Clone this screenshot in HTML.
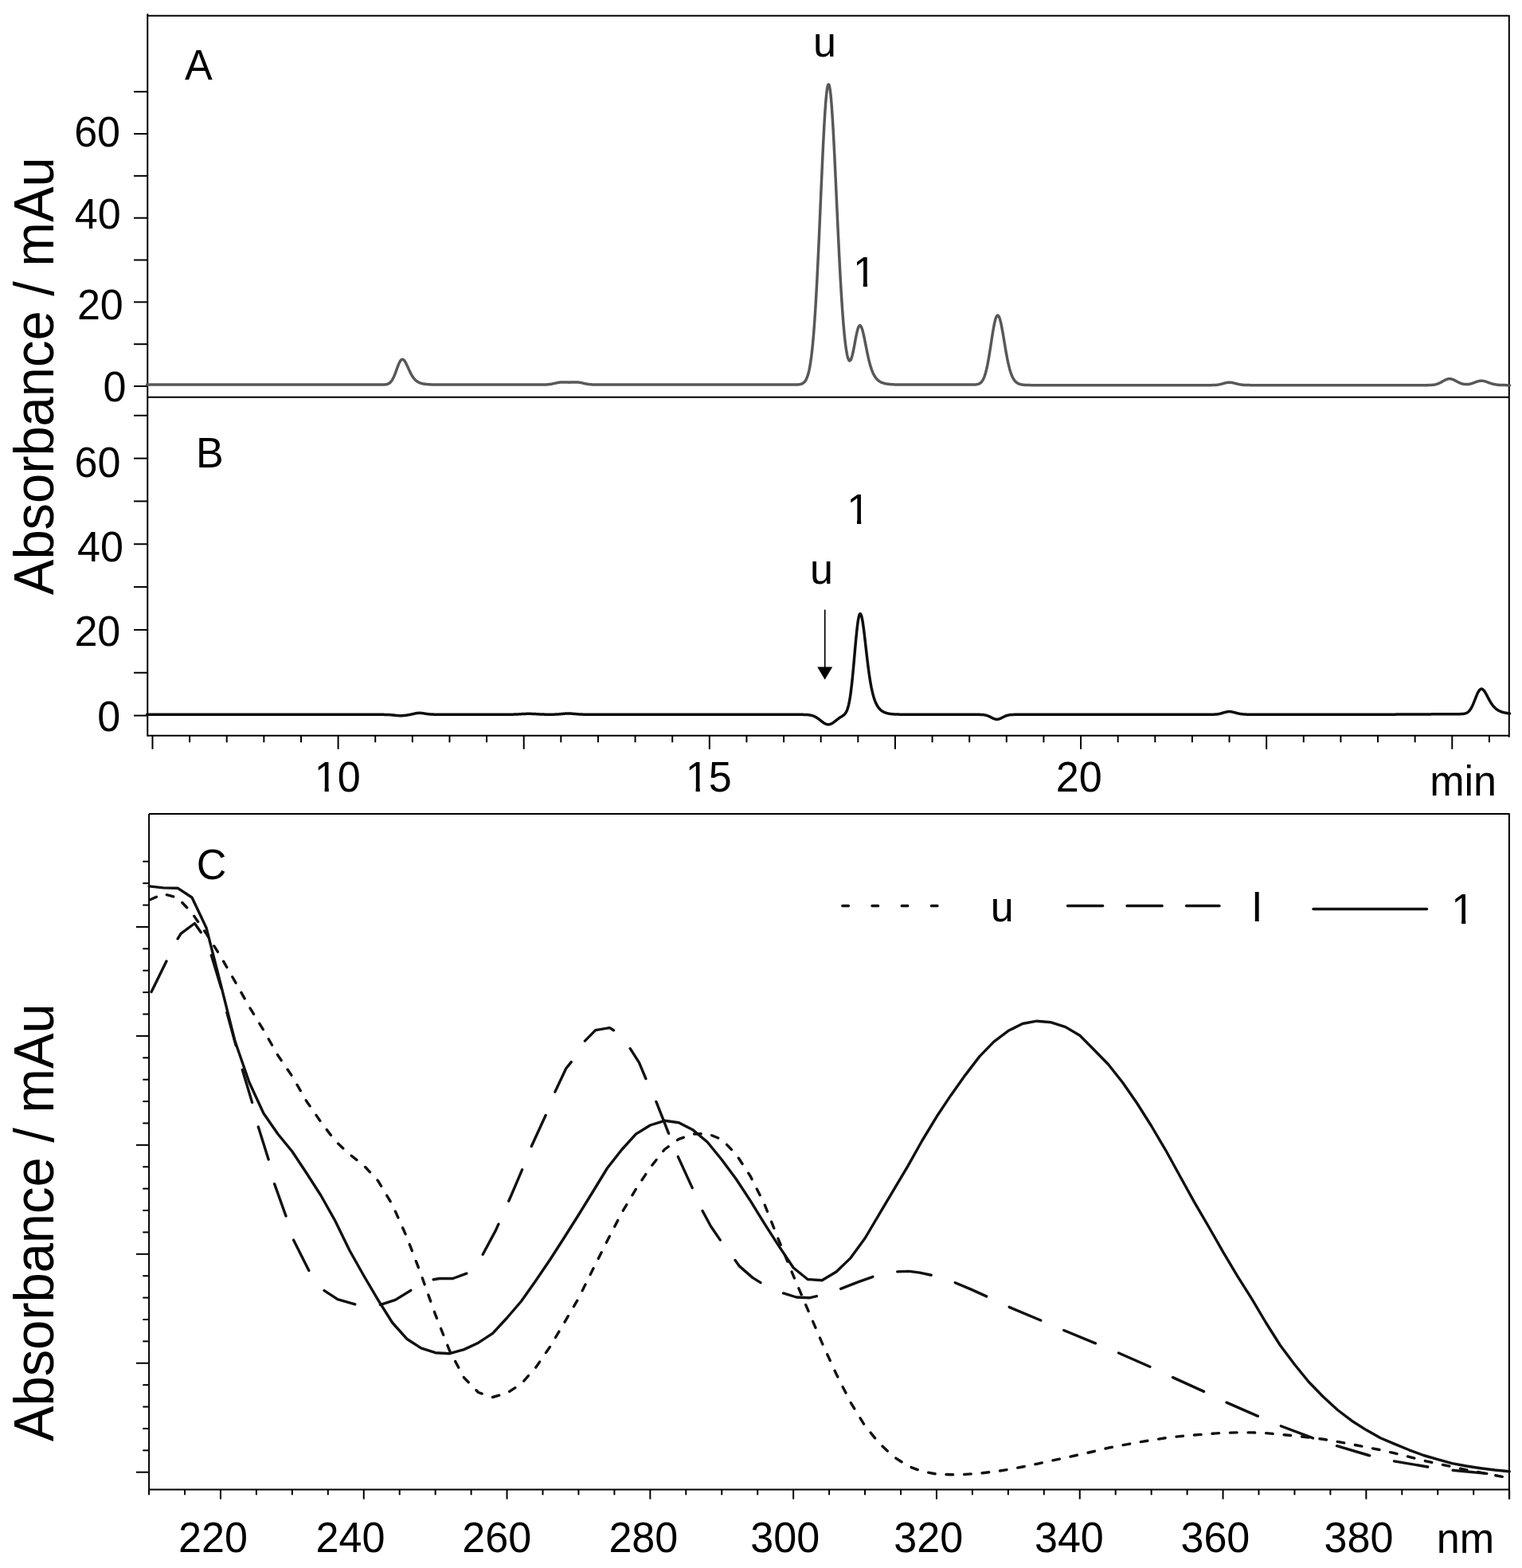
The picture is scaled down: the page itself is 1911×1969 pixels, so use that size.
<!DOCTYPE html>
<html lang="en"><head><meta charset="utf-8"><title>Chromatograms and UV spectra</title>
<style>html,body{margin:0;padding:0;background:#fff;}svg{display:block;}</style></head>
<body>
<svg xmlns="http://www.w3.org/2000/svg" width="1911" height="1969" viewBox="0 0 1911 1969" font-family='"Liberation Sans", Arial, Helvetica, sans-serif' fill="#000">
<rect width="1911" height="1969" fill="#fff"/>
<defs><clipPath id="one" clipPathUnits="userSpaceOnUse"><path d="M-5,-60 H200 V12 H29.05 V-4.31 H18.79 V1 H13.38 V-4.31 H-5 Z"/></clipPath></defs>
<line x1="185.25" y1="17.15" x2="185.25" y2="924.65" stroke="#000" stroke-width="2.0" />
<line x1="185.25" y1="19.85" x2="1894.80" y2="19.85" stroke="#000" stroke-width="2.0" />
<line x1="1894.80" y1="18.95" x2="1894.80" y2="925.75" stroke="#000" stroke-width="2.0" />
<line x1="185.25" y1="498.80" x2="1894.80" y2="498.80" stroke="#000" stroke-width="2.0" />
<line x1="185.25" y1="923.75" x2="1894.80" y2="923.75" stroke="#000" stroke-width="2.0" />
<line x1="168.00" y1="485.00" x2="185.25" y2="485.00" stroke="#000" stroke-width="2.0" />
<line x1="168.00" y1="432.17" x2="185.25" y2="432.17" stroke="#000" stroke-width="2.0" />
<line x1="168.00" y1="379.34" x2="185.25" y2="379.34" stroke="#000" stroke-width="2.0" />
<line x1="168.00" y1="326.51" x2="185.25" y2="326.51" stroke="#000" stroke-width="2.0" />
<line x1="168.00" y1="273.68" x2="185.25" y2="273.68" stroke="#000" stroke-width="2.0" />
<line x1="168.00" y1="220.85" x2="185.25" y2="220.85" stroke="#000" stroke-width="2.0" />
<line x1="168.00" y1="168.02" x2="185.25" y2="168.02" stroke="#000" stroke-width="2.0" />
<line x1="168.00" y1="115.19" x2="185.25" y2="115.19" stroke="#000" stroke-width="2.0" />
<line x1="168.00" y1="898.58" x2="185.25" y2="898.58" stroke="#000" stroke-width="2.0" />
<line x1="168.00" y1="844.75" x2="185.25" y2="844.75" stroke="#000" stroke-width="2.0" />
<line x1="168.00" y1="790.92" x2="185.25" y2="790.92" stroke="#000" stroke-width="2.0" />
<line x1="168.00" y1="737.09" x2="185.25" y2="737.09" stroke="#000" stroke-width="2.0" />
<line x1="168.00" y1="683.26" x2="185.25" y2="683.26" stroke="#000" stroke-width="2.0" />
<line x1="168.00" y1="629.43" x2="185.25" y2="629.43" stroke="#000" stroke-width="2.0" />
<line x1="168.00" y1="575.60" x2="185.25" y2="575.60" stroke="#000" stroke-width="2.0" />
<line x1="168.00" y1="521.77" x2="185.25" y2="521.77" stroke="#000" stroke-width="2.0" />
<line x1="191.49" y1="923.75" x2="191.49" y2="940.75" stroke="#000" stroke-width="2.0" />
<line x1="238.11" y1="923.75" x2="238.11" y2="932.25" stroke="#000" stroke-width="2.0" />
<line x1="284.73" y1="923.75" x2="284.73" y2="932.25" stroke="#000" stroke-width="2.0" />
<line x1="331.36" y1="923.75" x2="331.36" y2="932.25" stroke="#000" stroke-width="2.0" />
<line x1="377.98" y1="923.75" x2="377.98" y2="932.25" stroke="#000" stroke-width="2.0" />
<line x1="424.60" y1="923.75" x2="424.60" y2="940.75" stroke="#000" stroke-width="2.0" />
<line x1="471.22" y1="923.75" x2="471.22" y2="932.25" stroke="#000" stroke-width="2.0" />
<line x1="517.85" y1="923.75" x2="517.85" y2="932.25" stroke="#000" stroke-width="2.0" />
<line x1="564.47" y1="923.75" x2="564.47" y2="932.25" stroke="#000" stroke-width="2.0" />
<line x1="611.09" y1="923.75" x2="611.09" y2="932.25" stroke="#000" stroke-width="2.0" />
<line x1="657.71" y1="923.75" x2="657.71" y2="940.75" stroke="#000" stroke-width="2.0" />
<line x1="704.34" y1="923.75" x2="704.34" y2="932.25" stroke="#000" stroke-width="2.0" />
<line x1="750.96" y1="923.75" x2="750.96" y2="932.25" stroke="#000" stroke-width="2.0" />
<line x1="797.58" y1="923.75" x2="797.58" y2="932.25" stroke="#000" stroke-width="2.0" />
<line x1="844.20" y1="923.75" x2="844.20" y2="932.25" stroke="#000" stroke-width="2.0" />
<line x1="890.83" y1="923.75" x2="890.83" y2="940.75" stroke="#000" stroke-width="2.0" />
<line x1="937.45" y1="923.75" x2="937.45" y2="932.25" stroke="#000" stroke-width="2.0" />
<line x1="984.07" y1="923.75" x2="984.07" y2="932.25" stroke="#000" stroke-width="2.0" />
<line x1="1030.69" y1="923.75" x2="1030.69" y2="932.25" stroke="#000" stroke-width="2.0" />
<line x1="1077.32" y1="923.75" x2="1077.32" y2="932.25" stroke="#000" stroke-width="2.0" />
<line x1="1123.94" y1="923.75" x2="1123.94" y2="940.75" stroke="#000" stroke-width="2.0" />
<line x1="1170.56" y1="923.75" x2="1170.56" y2="932.25" stroke="#000" stroke-width="2.0" />
<line x1="1217.18" y1="923.75" x2="1217.18" y2="932.25" stroke="#000" stroke-width="2.0" />
<line x1="1263.81" y1="923.75" x2="1263.81" y2="932.25" stroke="#000" stroke-width="2.0" />
<line x1="1310.43" y1="923.75" x2="1310.43" y2="932.25" stroke="#000" stroke-width="2.0" />
<line x1="1357.05" y1="923.75" x2="1357.05" y2="940.75" stroke="#000" stroke-width="2.0" />
<line x1="1403.67" y1="923.75" x2="1403.67" y2="932.25" stroke="#000" stroke-width="2.0" />
<line x1="1450.30" y1="923.75" x2="1450.30" y2="932.25" stroke="#000" stroke-width="2.0" />
<line x1="1496.92" y1="923.75" x2="1496.92" y2="932.25" stroke="#000" stroke-width="2.0" />
<line x1="1543.54" y1="923.75" x2="1543.54" y2="932.25" stroke="#000" stroke-width="2.0" />
<line x1="1590.16" y1="923.75" x2="1590.16" y2="940.75" stroke="#000" stroke-width="2.0" />
<line x1="1636.78" y1="923.75" x2="1636.78" y2="932.25" stroke="#000" stroke-width="2.0" />
<line x1="1683.41" y1="923.75" x2="1683.41" y2="932.25" stroke="#000" stroke-width="2.0" />
<line x1="1730.03" y1="923.75" x2="1730.03" y2="932.25" stroke="#000" stroke-width="2.0" />
<line x1="1776.65" y1="923.75" x2="1776.65" y2="932.25" stroke="#000" stroke-width="2.0" />
<line x1="1823.28" y1="923.75" x2="1823.28" y2="940.75" stroke="#000" stroke-width="2.0" />
<line x1="1869.90" y1="923.75" x2="1869.90" y2="932.25" stroke="#000" stroke-width="2.0" />
<text transform="translate(232.10,100.00) scale(0.958,1)" font-size="54.4">A</text>
<text transform="translate(93.15,184.30) scale(0.958,1)" font-size="54.4">60</text>
<text transform="translate(93.70,287.40) scale(0.958,1)" font-size="54.4">40</text>
<text transform="translate(96.88,401.40) scale(0.958,1)" font-size="54.4">20</text>
<text transform="translate(129.46,504.30) scale(0.958,1)" font-size="54.4">0</text>
<text transform="translate(1020.92,70.50) scale(0.958,1)" font-size="54.4">u</text>
<text transform="translate(1070.99,359.90) scale(0.958,1)" font-size="54.4" clip-path="url(#one)">1</text>
<text transform="translate(246.12,587.00) scale(0.958,1)" font-size="54.4">B</text>
<text transform="translate(93.55,598.50) scale(0.958,1)" font-size="54.4">60</text>
<text transform="translate(97.10,704.90) scale(0.958,1)" font-size="54.4">40</text>
<text transform="translate(93.38,811.40) scale(0.958,1)" font-size="54.4">20</text>
<text transform="translate(122.16,918.20) scale(0.958,1)" font-size="54.4">0</text>
<text transform="translate(394.79,993.70) scale(0.958,1)" font-size="54.4" clip-path="url(#one)">10</text>
<text transform="translate(860.79,993.70) scale(0.958,1)" font-size="54.4" clip-path="url(#one)">15</text>
<text transform="translate(1325.68,993.70) scale(0.958,1)" font-size="54.4">20</text>
<text transform="translate(1795.14,998.50) scale(0.958,1)" font-size="54.4">min</text>
<text transform="translate(1063.19,657.80) scale(0.958,1)" font-size="54.4" clip-path="url(#one)">1</text>
<text transform="translate(1017.12,732.60) scale(0.958,1)" font-size="54.4">u</text>
<line x1="1035.70" y1="765.60" x2="1035.70" y2="840.00" stroke="#000" stroke-width="1.7" />
<polygon points="1026.2,837.4 1045.2,837.4 1035.7,853.5"/>
<text transform="translate(67.40,747.20) rotate(-90) scale(0.958,1)" font-size="69.8">Absorbance / mAu</text>
<line x1="187.10" y1="1022.10" x2="187.10" y2="1871.50" stroke="#000" stroke-width="2.0" />
<line x1="187.10" y1="1022.10" x2="1894.90" y2="1022.10" stroke="#000" stroke-width="2.0" />
<line x1="1894.90" y1="1021.20" x2="1894.90" y2="1882.60" stroke="#000" stroke-width="2.0" />
<line x1="187.10" y1="1870.60" x2="1894.90" y2="1870.60" stroke="#000" stroke-width="2.0" />
<line x1="187.05" y1="1870.60" x2="187.05" y2="1877.30" stroke="#000" stroke-width="2.0" />
<line x1="232.00" y1="1870.60" x2="232.00" y2="1877.30" stroke="#000" stroke-width="2.0" />
<line x1="276.95" y1="1870.60" x2="276.95" y2="1882.60" stroke="#000" stroke-width="2.0" />
<line x1="321.90" y1="1870.60" x2="321.90" y2="1877.30" stroke="#000" stroke-width="2.0" />
<line x1="366.85" y1="1870.60" x2="366.85" y2="1877.30" stroke="#000" stroke-width="2.0" />
<line x1="411.80" y1="1870.60" x2="411.80" y2="1877.30" stroke="#000" stroke-width="2.0" />
<line x1="456.75" y1="1870.60" x2="456.75" y2="1882.60" stroke="#000" stroke-width="2.0" />
<line x1="501.70" y1="1870.60" x2="501.70" y2="1877.30" stroke="#000" stroke-width="2.0" />
<line x1="546.65" y1="1870.60" x2="546.65" y2="1877.30" stroke="#000" stroke-width="2.0" />
<line x1="591.60" y1="1870.60" x2="591.60" y2="1877.30" stroke="#000" stroke-width="2.0" />
<line x1="636.55" y1="1870.60" x2="636.55" y2="1882.60" stroke="#000" stroke-width="2.0" />
<line x1="681.50" y1="1870.60" x2="681.50" y2="1877.30" stroke="#000" stroke-width="2.0" />
<line x1="726.45" y1="1870.60" x2="726.45" y2="1877.30" stroke="#000" stroke-width="2.0" />
<line x1="771.40" y1="1870.60" x2="771.40" y2="1877.30" stroke="#000" stroke-width="2.0" />
<line x1="816.35" y1="1870.60" x2="816.35" y2="1882.60" stroke="#000" stroke-width="2.0" />
<line x1="861.30" y1="1870.60" x2="861.30" y2="1877.30" stroke="#000" stroke-width="2.0" />
<line x1="906.25" y1="1870.60" x2="906.25" y2="1877.30" stroke="#000" stroke-width="2.0" />
<line x1="951.20" y1="1870.60" x2="951.20" y2="1877.30" stroke="#000" stroke-width="2.0" />
<line x1="996.15" y1="1870.60" x2="996.15" y2="1882.60" stroke="#000" stroke-width="2.0" />
<line x1="1041.10" y1="1870.60" x2="1041.10" y2="1877.30" stroke="#000" stroke-width="2.0" />
<line x1="1086.05" y1="1870.60" x2="1086.05" y2="1877.30" stroke="#000" stroke-width="2.0" />
<line x1="1131.00" y1="1870.60" x2="1131.00" y2="1877.30" stroke="#000" stroke-width="2.0" />
<line x1="1175.95" y1="1870.60" x2="1175.95" y2="1882.60" stroke="#000" stroke-width="2.0" />
<line x1="1220.90" y1="1870.60" x2="1220.90" y2="1877.30" stroke="#000" stroke-width="2.0" />
<line x1="1265.85" y1="1870.60" x2="1265.85" y2="1877.30" stroke="#000" stroke-width="2.0" />
<line x1="1310.80" y1="1870.60" x2="1310.80" y2="1877.30" stroke="#000" stroke-width="2.0" />
<line x1="1355.75" y1="1870.60" x2="1355.75" y2="1882.60" stroke="#000" stroke-width="2.0" />
<line x1="1400.70" y1="1870.60" x2="1400.70" y2="1877.30" stroke="#000" stroke-width="2.0" />
<line x1="1445.65" y1="1870.60" x2="1445.65" y2="1877.30" stroke="#000" stroke-width="2.0" />
<line x1="1490.60" y1="1870.60" x2="1490.60" y2="1877.30" stroke="#000" stroke-width="2.0" />
<line x1="1535.55" y1="1870.60" x2="1535.55" y2="1882.60" stroke="#000" stroke-width="2.0" />
<line x1="1580.50" y1="1870.60" x2="1580.50" y2="1877.30" stroke="#000" stroke-width="2.0" />
<line x1="1625.45" y1="1870.60" x2="1625.45" y2="1877.30" stroke="#000" stroke-width="2.0" />
<line x1="1670.40" y1="1870.60" x2="1670.40" y2="1877.30" stroke="#000" stroke-width="2.0" />
<line x1="1715.35" y1="1870.60" x2="1715.35" y2="1882.60" stroke="#000" stroke-width="2.0" />
<line x1="1760.30" y1="1870.60" x2="1760.30" y2="1877.30" stroke="#000" stroke-width="2.0" />
<line x1="1805.25" y1="1870.60" x2="1805.25" y2="1877.30" stroke="#000" stroke-width="2.0" />
<line x1="1850.20" y1="1870.60" x2="1850.20" y2="1877.30" stroke="#000" stroke-width="2.0" />
<line x1="1895.15" y1="1870.60" x2="1895.15" y2="1882.60" stroke="#000" stroke-width="2.0" />
<line x1="170.90" y1="1848.70" x2="187.10" y2="1848.70" stroke="#000" stroke-width="2.0" />
<line x1="179.30" y1="1821.31" x2="187.10" y2="1821.31" stroke="#000" stroke-width="2.0" />
<line x1="179.30" y1="1793.92" x2="187.10" y2="1793.92" stroke="#000" stroke-width="2.0" />
<line x1="179.30" y1="1766.53" x2="187.10" y2="1766.53" stroke="#000" stroke-width="2.0" />
<line x1="179.30" y1="1739.14" x2="187.10" y2="1739.14" stroke="#000" stroke-width="2.0" />
<line x1="170.90" y1="1711.75" x2="187.10" y2="1711.75" stroke="#000" stroke-width="2.0" />
<line x1="179.30" y1="1684.36" x2="187.10" y2="1684.36" stroke="#000" stroke-width="2.0" />
<line x1="179.30" y1="1656.97" x2="187.10" y2="1656.97" stroke="#000" stroke-width="2.0" />
<line x1="179.30" y1="1629.58" x2="187.10" y2="1629.58" stroke="#000" stroke-width="2.0" />
<line x1="179.30" y1="1602.19" x2="187.10" y2="1602.19" stroke="#000" stroke-width="2.0" />
<line x1="170.90" y1="1574.80" x2="187.10" y2="1574.80" stroke="#000" stroke-width="2.0" />
<line x1="179.30" y1="1547.41" x2="187.10" y2="1547.41" stroke="#000" stroke-width="2.0" />
<line x1="179.30" y1="1520.02" x2="187.10" y2="1520.02" stroke="#000" stroke-width="2.0" />
<line x1="179.30" y1="1492.63" x2="187.10" y2="1492.63" stroke="#000" stroke-width="2.0" />
<line x1="179.30" y1="1465.24" x2="187.10" y2="1465.24" stroke="#000" stroke-width="2.0" />
<line x1="170.90" y1="1437.85" x2="187.10" y2="1437.85" stroke="#000" stroke-width="2.0" />
<line x1="179.30" y1="1410.46" x2="187.10" y2="1410.46" stroke="#000" stroke-width="2.0" />
<line x1="179.30" y1="1383.07" x2="187.10" y2="1383.07" stroke="#000" stroke-width="2.0" />
<line x1="179.30" y1="1355.68" x2="187.10" y2="1355.68" stroke="#000" stroke-width="2.0" />
<line x1="179.30" y1="1328.29" x2="187.10" y2="1328.29" stroke="#000" stroke-width="2.0" />
<line x1="170.90" y1="1300.90" x2="187.10" y2="1300.90" stroke="#000" stroke-width="2.0" />
<line x1="179.30" y1="1273.51" x2="187.10" y2="1273.51" stroke="#000" stroke-width="2.0" />
<line x1="179.30" y1="1246.12" x2="187.10" y2="1246.12" stroke="#000" stroke-width="2.0" />
<line x1="179.30" y1="1218.73" x2="187.10" y2="1218.73" stroke="#000" stroke-width="2.0" />
<line x1="179.30" y1="1191.34" x2="187.10" y2="1191.34" stroke="#000" stroke-width="2.0" />
<line x1="170.90" y1="1163.95" x2="187.10" y2="1163.95" stroke="#000" stroke-width="2.0" />
<line x1="179.30" y1="1136.56" x2="187.10" y2="1136.56" stroke="#000" stroke-width="2.0" />
<line x1="179.30" y1="1109.17" x2="187.10" y2="1109.17" stroke="#000" stroke-width="2.0" />
<line x1="179.30" y1="1081.78" x2="187.10" y2="1081.78" stroke="#000" stroke-width="2.0" />
<text transform="translate(246.65,1104.30) scale(0.958,1)" font-size="54.4">C</text>
<text transform="translate(223.98,1949.40) scale(0.958,1)" font-size="54.4">220</text>
<text transform="translate(396.58,1949.40) scale(0.958,1)" font-size="54.4">240</text>
<text transform="translate(580.18,1949.40) scale(0.958,1)" font-size="54.4">260</text>
<text transform="translate(764.38,1949.40) scale(0.958,1)" font-size="54.4">280</text>
<text transform="translate(942.22,1949.40) scale(0.958,1)" font-size="54.4">300</text>
<text transform="translate(1122.22,1949.40) scale(0.958,1)" font-size="54.4">320</text>
<text transform="translate(1298.92,1949.40) scale(0.958,1)" font-size="54.4">340</text>
<text transform="translate(1482.42,1949.40) scale(0.958,1)" font-size="54.4">360</text>
<text transform="translate(1662.52,1949.40) scale(0.958,1)" font-size="54.4">380</text>
<text transform="translate(1803.84,1949.60) scale(0.958,1)" font-size="54.4">nm</text>
<text transform="translate(67.40,1810.13) rotate(-90) scale(0.958,1)" font-size="69.8">Absorbance / mAu</text>
<line x1="1057.8" y1="1137.5" x2="1179" y2="1137.5" stroke="#111" stroke-width="3.4" stroke-dasharray="7.6 29.6" stroke-linecap="round"/>
<text transform="translate(1243.82,1156.60) scale(0.958,1)" font-size="54.4">u</text>
<line x1="1340.5" y1="1137.5" x2="1531" y2="1137.5" stroke="#111" stroke-width="3.4" stroke-dasharray="44.2 30.3" stroke-linecap="round"/>
<text transform="translate(1571.09,1156.60) scale(0.958,1)" font-size="54.4">I</text>
<line x1="1649" y1="1141.5" x2="1791.5" y2="1141.5" stroke="#111" stroke-width="3.4" stroke-linecap="round"/>
<text transform="translate(1822.29,1160.00) scale(0.958,1)" font-size="54.4" clip-path="url(#one)">1</text>
<path d="M184.5,483.1 L185.0,483.1 L185.5,483.1 L186.0,483.1 L186.5,483.1 L187.0,483.1 L187.5,483.1 L188.0,483.1 L188.5,483.1 L189.0,483.1 L189.5,483.1 L190.0,483.1 L190.5,483.1 L191.0,483.1 L191.5,483.1 L192.0,483.1 L192.5,483.1 L193.0,483.1 L193.5,483.1 L194.0,483.1 L194.5,483.1 L195.0,483.1 L195.5,483.1 L196.0,483.1 L196.5,483.1 L197.0,483.1 L197.5,483.1 L198.0,483.1 L198.5,483.1 L199.0,483.1 L199.5,483.1 L200.0,483.1 L200.5,483.1 L201.0,483.1 L201.5,483.1 L202.0,483.1 L202.5,483.1 L203.0,483.1 L203.5,483.1 L204.0,483.1 L204.5,483.1 L205.0,483.1 L205.5,483.1 L206.0,483.1 L206.5,483.1 L207.0,483.1 L207.5,483.1 L208.0,483.1 L208.5,483.1 L209.0,483.1 L209.5,483.1 L210.0,483.1 L210.5,483.1 L211.0,483.1 L211.5,483.1 L212.0,483.1 L212.5,483.1 L213.0,483.1 L213.5,483.1 L214.0,483.1 L214.5,483.1 L215.0,483.1 L215.5,483.1 L216.0,483.1 L216.5,483.1 L217.0,483.1 L217.5,483.1 L218.0,483.1 L218.5,483.1 L219.0,483.1 L219.5,483.1 L220.0,483.1 L220.5,483.1 L221.0,483.1 L221.5,483.1 L222.0,483.1 L222.5,483.1 L223.0,483.1 L223.5,483.1 L224.0,483.1 L224.5,483.1 L225.0,483.1 L225.5,483.1 L226.0,483.1 L226.5,483.1 L227.0,483.1 L227.5,483.1 L228.0,483.1 L228.5,483.1 L229.0,483.1 L229.5,483.1 L230.0,483.1 L230.5,483.1 L231.0,483.1 L231.5,483.1 L232.0,483.1 L232.5,483.1 L233.0,483.1 L233.5,483.1 L234.0,483.1 L234.5,483.1 L235.0,483.1 L235.5,483.1 L236.0,483.1 L236.5,483.1 L237.0,483.1 L237.5,483.1 L238.0,483.1 L238.5,483.1 L239.0,483.1 L239.5,483.1 L240.0,483.1 L240.5,483.1 L241.0,483.1 L241.5,483.1 L242.0,483.1 L242.5,483.1 L243.0,483.1 L243.5,483.1 L244.0,483.1 L244.5,483.1 L245.0,483.1 L245.5,483.1 L246.0,483.1 L246.5,483.1 L247.0,483.1 L247.5,483.1 L248.0,483.1 L248.5,483.1 L249.0,483.1 L249.5,483.1 L250.0,483.1 L250.5,483.1 L251.0,483.1 L251.5,483.1 L252.0,483.1 L252.5,483.1 L253.0,483.1 L253.5,483.1 L254.0,483.1 L254.5,483.1 L255.0,483.1 L255.5,483.1 L256.0,483.1 L256.5,483.1 L257.0,483.1 L257.5,483.1 L258.0,483.1 L258.5,483.1 L259.0,483.1 L259.5,483.1 L260.0,483.1 L260.5,483.1 L261.0,483.1 L261.5,483.1 L262.0,483.1 L262.5,483.1 L263.0,483.1 L263.5,483.1 L264.0,483.1 L264.5,483.1 L265.0,483.1 L265.5,483.1 L266.0,483.1 L266.5,483.1 L267.0,483.1 L267.5,483.1 L268.0,483.1 L268.5,483.1 L269.0,483.1 L269.5,483.1 L270.0,483.1 L270.5,483.1 L271.0,483.1 L271.5,483.1 L272.0,483.1 L272.5,483.1 L273.0,483.1 L273.5,483.1 L274.0,483.1 L274.5,483.1 L275.0,483.1 L275.5,483.1 L276.0,483.1 L276.5,483.1 L277.0,483.1 L277.5,483.1 L278.0,483.1 L278.5,483.1 L279.0,483.1 L279.5,483.1 L280.0,483.1 L280.5,483.1 L281.0,483.1 L281.5,483.1 L282.0,483.1 L282.5,483.1 L283.0,483.1 L283.5,483.1 L284.0,483.1 L284.5,483.1 L285.0,483.1 L285.5,483.1 L286.0,483.1 L286.5,483.1 L287.0,483.1 L287.5,483.1 L288.0,483.1 L288.5,483.1 L289.0,483.1 L289.5,483.1 L290.0,483.1 L290.5,483.1 L291.0,483.1 L291.5,483.1 L292.0,483.1 L292.5,483.1 L293.0,483.1 L293.5,483.1 L294.0,483.1 L294.5,483.1 L295.0,483.1 L295.5,483.1 L296.0,483.1 L296.5,483.1 L297.0,483.1 L297.5,483.1 L298.0,483.1 L298.5,483.1 L299.0,483.1 L299.5,483.1 L300.0,483.1 L300.5,483.1 L301.0,483.1 L301.5,483.1 L302.0,483.1 L302.5,483.1 L303.0,483.1 L303.5,483.1 L304.0,483.1 L304.5,483.1 L305.0,483.1 L305.5,483.1 L306.0,483.1 L306.5,483.1 L307.0,483.1 L307.5,483.1 L308.0,483.1 L308.5,483.1 L309.0,483.1 L309.5,483.1 L310.0,483.1 L310.5,483.1 L311.0,483.1 L311.5,483.1 L312.0,483.1 L312.5,483.1 L313.0,483.1 L313.5,483.1 L314.0,483.1 L314.5,483.1 L315.0,483.1 L315.5,483.1 L316.0,483.1 L316.5,483.1 L317.0,483.1 L317.5,483.1 L318.0,483.1 L318.5,483.1 L319.0,483.1 L319.5,483.1 L320.0,483.1 L320.5,483.1 L321.0,483.1 L321.5,483.1 L322.0,483.1 L322.5,483.1 L323.0,483.1 L323.5,483.1 L324.0,483.1 L324.5,483.1 L325.0,483.1 L325.5,483.1 L326.0,483.1 L326.5,483.1 L327.0,483.1 L327.5,483.1 L328.0,483.1 L328.5,483.1 L329.0,483.1 L329.5,483.1 L330.0,483.1 L330.5,483.1 L331.0,483.1 L331.5,483.1 L332.0,483.1 L332.5,483.1 L333.0,483.1 L333.5,483.1 L334.0,483.1 L334.5,483.1 L335.0,483.1 L335.5,483.1 L336.0,483.1 L336.5,483.1 L337.0,483.1 L337.5,483.1 L338.0,483.1 L338.5,483.1 L339.0,483.1 L339.5,483.1 L340.0,483.1 L340.5,483.1 L341.0,483.1 L341.5,483.1 L342.0,483.1 L342.5,483.1 L343.0,483.1 L343.5,483.1 L344.0,483.1 L344.5,483.1 L345.0,483.1 L345.5,483.1 L346.0,483.1 L346.5,483.1 L347.0,483.1 L347.5,483.1 L348.0,483.1 L348.5,483.1 L349.0,483.1 L349.5,483.1 L350.0,483.1 L350.5,483.1 L351.0,483.1 L351.5,483.1 L352.0,483.1 L352.5,483.1 L353.0,483.1 L353.5,483.1 L354.0,483.1 L354.5,483.1 L355.0,483.1 L355.5,483.1 L356.0,483.1 L356.5,483.1 L357.0,483.1 L357.5,483.1 L358.0,483.1 L358.5,483.1 L359.0,483.1 L359.5,483.1 L360.0,483.1 L360.5,483.1 L361.0,483.1 L361.5,483.1 L362.0,483.1 L362.5,483.1 L363.0,483.1 L363.5,483.1 L364.0,483.1 L364.5,483.1 L365.0,483.1 L365.5,483.1 L366.0,483.1 L366.5,483.1 L367.0,483.1 L367.5,483.1 L368.0,483.1 L368.5,483.1 L369.0,483.1 L369.5,483.1 L370.0,483.1 L370.5,483.1 L371.0,483.1 L371.5,483.1 L372.0,483.1 L372.5,483.1 L373.0,483.1 L373.5,483.1 L374.0,483.1 L374.5,483.1 L375.0,483.1 L375.5,483.1 L376.0,483.1 L376.5,483.1 L377.0,483.1 L377.5,483.1 L378.0,483.1 L378.5,483.1 L379.0,483.1 L379.5,483.1 L380.0,483.1 L380.5,483.1 L381.0,483.1 L381.5,483.1 L382.0,483.1 L382.5,483.1 L383.0,483.1 L383.5,483.1 L384.0,483.1 L384.5,483.1 L385.0,483.1 L385.5,483.1 L386.0,483.1 L386.5,483.1 L387.0,483.1 L387.5,483.1 L388.0,483.1 L388.5,483.1 L389.0,483.1 L389.5,483.1 L390.0,483.1 L390.5,483.1 L391.0,483.1 L391.5,483.1 L392.0,483.1 L392.5,483.1 L393.0,483.1 L393.5,483.1 L394.0,483.1 L394.5,483.1 L395.0,483.1 L395.5,483.1 L396.0,483.1 L396.5,483.1 L397.0,483.1 L397.5,483.1 L398.0,483.1 L398.5,483.1 L399.0,483.1 L399.5,483.1 L400.0,483.1 L400.5,483.1 L401.0,483.1 L401.5,483.1 L402.0,483.1 L402.5,483.1 L403.0,483.1 L403.5,483.1 L404.0,483.1 L404.5,483.1 L405.0,483.1 L405.5,483.1 L406.0,483.1 L406.5,483.1 L407.0,483.1 L407.5,483.1 L408.0,483.1 L408.5,483.1 L409.0,483.1 L409.5,483.1 L410.0,483.1 L410.5,483.1 L411.0,483.1 L411.5,483.1 L412.0,483.1 L412.5,483.1 L413.0,483.1 L413.5,483.1 L414.0,483.1 L414.5,483.1 L415.0,483.1 L415.5,483.1 L416.0,483.1 L416.5,483.1 L417.0,483.1 L417.5,483.1 L418.0,483.1 L418.5,483.1 L419.0,483.1 L419.5,483.1 L420.0,483.1 L420.5,483.1 L421.0,483.1 L421.5,483.1 L422.0,483.1 L422.5,483.1 L423.0,483.1 L423.5,483.1 L424.0,483.1 L424.5,483.1 L425.0,483.1 L425.5,483.1 L426.0,483.1 L426.5,483.1 L427.0,483.1 L427.5,483.1 L428.0,483.1 L428.5,483.1 L429.0,483.1 L429.5,483.1 L430.0,483.1 L430.5,483.1 L431.0,483.1 L431.5,483.1 L432.0,483.1 L432.5,483.1 L433.0,483.1 L433.5,483.1 L434.0,483.1 L434.5,483.1 L435.0,483.1 L435.5,483.1 L436.0,483.1 L436.5,483.1 L437.0,483.1 L437.5,483.1 L438.0,483.1 L438.5,483.1 L439.0,483.1 L439.5,483.1 L440.0,483.1 L440.5,483.1 L441.0,483.1 L441.5,483.1 L442.0,483.1 L442.5,483.1 L443.0,483.1 L443.5,483.1 L444.0,483.1 L444.5,483.1 L445.0,483.1 L445.5,483.1 L446.0,483.1 L446.5,483.1 L447.0,483.1 L447.5,483.1 L448.0,483.1 L448.5,483.1 L449.0,483.1 L449.5,483.1 L450.0,483.1 L450.5,483.1 L451.0,483.1 L451.5,483.1 L452.0,483.1 L452.5,483.1 L453.0,483.1 L453.5,483.1 L454.0,483.1 L454.5,483.1 L455.0,483.1 L455.5,483.1 L456.0,483.1 L456.5,483.1 L457.0,483.1 L457.5,483.1 L458.0,483.1 L458.5,483.1 L459.0,483.1 L459.5,483.1 L460.0,483.1 L460.5,483.1 L461.0,483.1 L461.5,483.1 L462.0,483.1 L462.5,483.1 L463.0,483.1 L463.5,483.1 L464.0,483.1 L464.5,483.1 L465.0,483.1 L465.5,483.1 L466.0,483.1 L466.5,483.1 L467.0,483.1 L467.5,483.1 L468.0,483.1 L468.5,483.1 L469.0,483.1 L469.5,483.1 L470.0,483.1 L470.5,483.1 L471.0,483.1 L471.5,483.1 L472.0,483.1 L472.5,483.1 L473.0,483.1 L473.5,483.1 L474.0,483.1 L474.5,483.1 L475.0,483.1 L475.5,483.1 L476.0,483.1 L476.5,483.1 L477.0,483.1 L477.5,483.1 L478.0,483.1 L478.5,483.1 L479.0,483.1 L479.5,483.1 L480.0,483.1 L480.5,483.1 L481.0,483.0 L481.5,483.0 L482.0,483.0 L482.5,483.0 L483.0,482.9 L483.5,482.9 L484.0,482.8 L484.5,482.8 L485.0,482.7 L485.5,482.6 L486.0,482.4 L486.5,482.3 L487.0,482.1 L487.5,481.9 L488.0,481.6 L488.5,481.4 L489.0,481.0 L489.5,480.6 L490.0,480.2 L490.5,479.7 L491.0,479.1 L491.5,478.5 L492.0,477.8 L492.5,477.0 L493.0,476.1 L493.5,475.2 L494.0,474.2 L494.5,473.1 L495.0,472.0 L495.5,470.8 L496.0,469.5 L496.5,468.2 L497.0,466.9 L497.5,465.5 L498.0,464.1 L498.5,462.7 L499.0,461.4 L499.5,460.0 L500.0,458.7 L500.5,457.5 L501.0,456.4 L501.5,455.3 L502.0,454.4 L502.5,453.5 L503.0,452.8 L503.5,452.2 L504.0,451.8 L504.5,451.5 L505.0,451.3 L505.5,451.3 L506.0,451.4 L506.5,451.7 L507.0,452.1 L507.5,452.6 L508.0,453.2 L508.5,454.0 L509.0,454.8 L509.5,455.7 L510.0,456.6 L510.5,457.7 L511.0,458.7 L511.5,459.8 L512.0,460.9 L512.5,462.0 L513.0,463.2 L513.5,464.3 L514.0,465.3 L514.5,466.4 L515.0,467.4 L515.5,468.4 L516.0,469.4 L516.5,470.3 L517.0,471.2 L517.5,472.0 L518.0,472.8 L518.5,473.6 L519.0,474.3 L519.5,474.9 L520.0,475.5 L520.5,476.1 L521.0,476.7 L521.5,477.2 L522.0,477.6 L522.5,478.0 L523.0,478.4 L523.5,478.8 L524.0,479.1 L524.5,479.5 L525.0,479.7 L525.5,480.0 L526.0,480.3 L526.5,480.5 L527.0,480.7 L527.5,480.9 L528.0,481.1 L528.5,481.2 L529.0,481.4 L529.5,481.5 L530.0,481.6 L530.5,481.8 L531.0,481.9 L531.5,482.0 L532.0,482.1 L532.5,482.1 L533.0,482.2 L533.5,482.3 L534.0,482.3 L534.5,482.4 L535.0,482.5 L535.5,482.5 L536.0,482.6 L536.5,482.6 L537.0,482.6 L537.5,482.7 L538.0,482.7 L538.5,482.7 L539.0,482.8 L539.5,482.8 L540.0,482.8 L540.5,482.8 L541.0,482.9 L541.5,482.9 L542.0,482.9 L542.5,482.9 L543.0,482.9 L543.5,482.9 L544.0,483.0 L544.5,483.0 L545.0,483.0 L545.5,483.0 L546.0,483.0 L546.5,483.0 L547.0,483.0 L547.5,483.0 L548.0,483.0 L548.5,483.0 L549.0,483.0 L549.5,483.0 L550.0,483.0 L550.5,483.1 L551.0,483.1 L551.5,483.1 L552.0,483.1 L552.5,483.1 L553.0,483.1 L553.5,483.1 L554.0,483.1 L554.5,483.1 L555.0,483.1 L555.5,483.1 L556.0,483.1 L556.5,483.1 L557.0,483.1 L557.5,483.1 L558.0,483.1 L558.5,483.1 L559.0,483.1 L559.5,483.1 L560.0,483.1 L560.5,483.1 L561.0,483.1 L561.5,483.1 L562.0,483.1 L562.5,483.1 L563.0,483.1 L563.5,483.1 L564.0,483.1 L564.5,483.1 L565.0,483.1 L565.5,483.1 L566.0,483.1 L566.5,483.1 L567.0,483.1 L567.5,483.1 L568.0,483.1 L568.5,483.1 L569.0,483.1 L569.5,483.1 L570.0,483.1 L570.5,483.1 L571.0,483.1 L571.5,483.1 L572.0,483.1 L572.5,483.1 L573.0,483.1 L573.5,483.1 L574.0,483.1 L574.5,483.1 L575.0,483.1 L575.5,483.1 L576.0,483.1 L576.5,483.1 L577.0,483.1 L577.5,483.1 L578.0,483.1 L578.5,483.1 L579.0,483.1 L579.5,483.1 L580.0,483.1 L580.5,483.1 L581.0,483.1 L581.5,483.1 L582.0,483.1 L582.5,483.1 L583.0,483.1 L583.5,483.1 L584.0,483.1 L584.5,483.1 L585.0,483.1 L585.5,483.1 L586.0,483.1 L586.5,483.1 L587.0,483.1 L587.5,483.1 L588.0,483.1 L588.5,483.1 L589.0,483.1 L589.5,483.1 L590.0,483.1 L590.5,483.1 L591.0,483.1 L591.5,483.1 L592.0,483.1 L592.5,483.1 L593.0,483.1 L593.5,483.1 L594.0,483.1 L594.5,483.1 L595.0,483.1 L595.5,483.1 L596.0,483.1 L596.5,483.1 L597.0,483.1 L597.5,483.1 L598.0,483.1 L598.5,483.1 L599.0,483.1 L599.5,483.1 L600.0,483.1 L600.5,483.1 L601.0,483.1 L601.5,483.1 L602.0,483.1 L602.5,483.1 L603.0,483.1 L603.5,483.1 L604.0,483.1 L604.5,483.1 L605.0,483.1 L605.5,483.1 L606.0,483.1 L606.5,483.1 L607.0,483.1 L607.5,483.1 L608.0,483.1 L608.5,483.1 L609.0,483.1 L609.5,483.1 L610.0,483.1 L610.5,483.1 L611.0,483.1 L611.5,483.1 L612.0,483.1 L612.5,483.1 L613.0,483.1 L613.5,483.1 L614.0,483.1 L614.5,483.1 L615.0,483.1 L615.5,483.1 L616.0,483.1 L616.5,483.1 L617.0,483.1 L617.5,483.1 L618.0,483.1 L618.5,483.1 L619.0,483.1 L619.5,483.1 L620.0,483.1 L620.5,483.1 L621.0,483.1 L621.5,483.1 L622.0,483.1 L622.5,483.1 L623.0,483.1 L623.5,483.1 L624.0,483.1 L624.5,483.1 L625.0,483.1 L625.5,483.1 L626.0,483.1 L626.5,483.1 L627.0,483.1 L627.5,483.1 L628.0,483.1 L628.5,483.1 L629.0,483.1 L629.5,483.1 L630.0,483.1 L630.5,483.1 L631.0,483.1 L631.5,483.1 L632.0,483.1 L632.5,483.1 L633.0,483.1 L633.5,483.1 L634.0,483.1 L634.5,483.1 L635.0,483.1 L635.5,483.1 L636.0,483.1 L636.5,483.1 L637.0,483.1 L637.5,483.1 L638.0,483.1 L638.5,483.1 L639.0,483.1 L639.5,483.1 L640.0,483.1 L640.5,483.1 L641.0,483.1 L641.5,483.1 L642.0,483.1 L642.5,483.1 L643.0,483.1 L643.5,483.1 L644.0,483.1 L644.5,483.1 L645.0,483.1 L645.5,483.1 L646.0,483.1 L646.5,483.1 L647.0,483.1 L647.5,483.1 L648.0,483.1 L648.5,483.1 L649.0,483.1 L649.5,483.1 L650.0,483.1 L650.5,483.1 L651.0,483.1 L651.5,483.1 L652.0,483.1 L652.5,483.1 L653.0,483.1 L653.5,483.1 L654.0,483.1 L654.5,483.1 L655.0,483.1 L655.5,483.1 L656.0,483.1 L656.5,483.1 L657.0,483.1 L657.5,483.1 L658.0,483.1 L658.5,483.1 L659.0,483.1 L659.5,483.1 L660.0,483.1 L660.5,483.1 L661.0,483.1 L661.5,483.1 L662.0,483.1 L662.5,483.1 L663.0,483.1 L663.5,483.1 L664.0,483.1 L664.5,483.1 L665.0,483.1 L665.5,483.1 L666.0,483.1 L666.5,483.1 L667.0,483.1 L667.5,483.1 L668.0,483.1 L668.5,483.1 L669.0,483.1 L669.5,483.1 L670.0,483.1 L670.5,483.1 L671.0,483.1 L671.5,483.1 L672.0,483.1 L672.5,483.1 L673.0,483.1 L673.5,483.1 L674.0,483.1 L674.5,483.1 L675.0,483.1 L675.5,483.1 L676.0,483.1 L676.5,483.1 L677.0,483.1 L677.5,483.1 L678.0,483.1 L678.5,483.1 L679.0,483.1 L679.5,483.1 L680.0,483.1 L680.5,483.1 L681.0,483.1 L681.5,483.1 L682.0,483.1 L682.5,483.0 L683.0,483.0 L683.5,483.0 L684.0,483.0 L684.5,483.0 L685.0,483.0 L685.5,482.9 L686.0,482.9 L686.5,482.9 L687.0,482.9 L687.5,482.8 L688.0,482.8 L688.5,482.7 L689.0,482.7 L689.5,482.6 L690.0,482.6 L690.5,482.5 L691.0,482.5 L691.5,482.4 L692.0,482.3 L692.5,482.2 L693.0,482.1 L693.5,482.0 L694.0,481.9 L694.5,481.8 L695.0,481.7 L695.5,481.6 L696.0,481.5 L696.5,481.4 L697.0,481.3 L697.5,481.2 L698.0,481.0 L698.5,480.9 L699.0,480.8 L699.5,480.7 L700.0,480.6 L700.5,480.5 L701.0,480.4 L701.5,480.3 L702.0,480.2 L702.5,480.2 L703.0,480.1 L703.5,480.0 L704.0,480.0 L704.5,479.9 L705.0,479.9 L705.5,479.9 L706.0,479.9 L706.5,479.9 L707.0,479.9 L707.5,479.9 L708.0,479.9 L708.5,479.9 L709.0,479.9 L709.5,480.0 L710.0,480.0 L710.5,480.0 L711.0,480.0 L711.5,480.1 L712.0,480.1 L712.5,480.1 L713.0,480.1 L713.5,480.1 L714.0,480.1 L714.5,480.2 L715.0,480.2 L715.5,480.1 L716.0,480.1 L716.5,480.1 L717.0,480.1 L717.5,480.1 L718.0,480.1 L718.5,480.0 L719.0,480.0 L719.5,480.0 L720.0,480.0 L720.5,479.9 L721.0,479.9 L721.5,479.9 L722.0,479.9 L722.5,479.9 L723.0,479.9 L723.5,479.9 L724.0,479.9 L724.5,479.9 L725.0,480.0 L725.5,480.0 L726.0,480.1 L726.5,480.1 L727.0,480.2 L727.5,480.3 L728.0,480.3 L728.5,480.4 L729.0,480.5 L729.5,480.6 L730.0,480.7 L730.5,480.8 L731.0,480.9 L731.5,481.0 L732.0,481.2 L732.5,481.3 L733.0,481.4 L733.5,481.5 L734.0,481.6 L734.5,481.7 L735.0,481.8 L735.5,481.9 L736.0,482.0 L736.5,482.1 L737.0,482.2 L737.5,482.3 L738.0,482.3 L738.5,482.4 L739.0,482.5 L739.5,482.5 L740.0,482.6 L740.5,482.7 L741.0,482.7 L741.5,482.7 L742.0,482.8 L742.5,482.8 L743.0,482.9 L743.5,482.9 L744.0,482.9 L744.5,482.9 L745.0,483.0 L745.5,483.0 L746.0,483.0 L746.5,483.0 L747.0,483.0 L747.5,483.0 L748.0,483.0 L748.5,483.1 L749.0,483.1 L749.5,483.1 L750.0,483.1 L750.5,483.1 L751.0,483.1 L751.5,483.1 L752.0,483.1 L752.5,483.1 L753.0,483.1 L753.5,483.1 L754.0,483.1 L754.5,483.1 L755.0,483.1 L755.5,483.1 L756.0,483.1 L756.5,483.1 L757.0,483.1 L757.5,483.1 L758.0,483.1 L758.5,483.1 L759.0,483.1 L759.5,483.1 L760.0,483.1 L760.5,483.1 L761.0,483.1 L761.5,483.1 L762.0,483.1 L762.5,483.1 L763.0,483.1 L763.5,483.1 L764.0,483.1 L764.5,483.1 L765.0,483.1 L765.5,483.1 L766.0,483.1 L766.5,483.1 L767.0,483.1 L767.5,483.1 L768.0,483.1 L768.5,483.1 L769.0,483.1 L769.5,483.1 L770.0,483.1 L770.5,483.1 L771.0,483.1 L771.5,483.1 L772.0,483.1 L772.5,483.1 L773.0,483.1 L773.5,483.1 L774.0,483.1 L774.5,483.1 L775.0,483.1 L775.5,483.1 L776.0,483.1 L776.5,483.1 L777.0,483.1 L777.5,483.1 L778.0,483.1 L778.5,483.1 L779.0,483.1 L779.5,483.1 L780.0,483.1 L780.5,483.1 L781.0,483.1 L781.5,483.1 L782.0,483.1 L782.5,483.1 L783.0,483.1 L783.5,483.1 L784.0,483.1 L784.5,483.1 L785.0,483.1 L785.5,483.1 L786.0,483.1 L786.5,483.1 L787.0,483.1 L787.5,483.1 L788.0,483.1 L788.5,483.1 L789.0,483.1 L789.5,483.1 L790.0,483.1 L790.5,483.1 L791.0,483.1 L791.5,483.1 L792.0,483.1 L792.5,483.1 L793.0,483.1 L793.5,483.1 L794.0,483.1 L794.5,483.1 L795.0,483.1 L795.5,483.1 L796.0,483.1 L796.5,483.1 L797.0,483.1 L797.5,483.1 L798.0,483.1 L798.5,483.1 L799.0,483.1 L799.5,483.1 L800.0,483.1 L800.5,483.1 L801.0,483.1 L801.5,483.1 L802.0,483.1 L802.5,483.1 L803.0,483.1 L803.5,483.1 L804.0,483.1 L804.5,483.1 L805.0,483.1 L805.5,483.1 L806.0,483.1 L806.5,483.1 L807.0,483.1 L807.5,483.1 L808.0,483.1 L808.5,483.1 L809.0,483.1 L809.5,483.1 L810.0,483.1 L810.5,483.1 L811.0,483.1 L811.5,483.1 L812.0,483.1 L812.5,483.1 L813.0,483.1 L813.5,483.1 L814.0,483.1 L814.5,483.1 L815.0,483.1 L815.5,483.1 L816.0,483.1 L816.5,483.1 L817.0,483.1 L817.5,483.1 L818.0,483.1 L818.5,483.1 L819.0,483.1 L819.5,483.1 L820.0,483.1 L820.5,483.1 L821.0,483.1 L821.5,483.1 L822.0,483.1 L822.5,483.1 L823.0,483.1 L823.5,483.1 L824.0,483.1 L824.5,483.1 L825.0,483.1 L825.5,483.1 L826.0,483.1 L826.5,483.1 L827.0,483.1 L827.5,483.1 L828.0,483.1 L828.5,483.1 L829.0,483.1 L829.5,483.1 L830.0,483.1 L830.5,483.1 L831.0,483.1 L831.5,483.1 L832.0,483.1 L832.5,483.1 L833.0,483.1 L833.5,483.1 L834.0,483.1 L834.5,483.1 L835.0,483.1 L835.5,483.1 L836.0,483.1 L836.5,483.1 L837.0,483.1 L837.5,483.1 L838.0,483.1 L838.5,483.1 L839.0,483.1 L839.5,483.1 L840.0,483.1 L840.5,483.1 L841.0,483.1 L841.5,483.1 L842.0,483.1 L842.5,483.1 L843.0,483.1 L843.5,483.1 L844.0,483.1 L844.5,483.1 L845.0,483.1 L845.5,483.1 L846.0,483.1 L846.5,483.1 L847.0,483.1 L847.5,483.1 L848.0,483.1 L848.5,483.1 L849.0,483.1 L849.5,483.1 L850.0,483.1 L850.5,483.1 L851.0,483.1 L851.5,483.1 L852.0,483.1 L852.5,483.1 L853.0,483.1 L853.5,483.1 L854.0,483.1 L854.5,483.1 L855.0,483.1 L855.5,483.1 L856.0,483.1 L856.5,483.1 L857.0,483.1 L857.5,483.1 L858.0,483.1 L858.5,483.1 L859.0,483.1 L859.5,483.1 L860.0,483.1 L860.5,483.1 L861.0,483.1 L861.5,483.1 L862.0,483.1 L862.5,483.1 L863.0,483.1 L863.5,483.1 L864.0,483.1 L864.5,483.1 L865.0,483.1 L865.5,483.1 L866.0,483.1 L866.5,483.1 L867.0,483.1 L867.5,483.1 L868.0,483.1 L868.5,483.1 L869.0,483.1 L869.5,483.1 L870.0,483.1 L870.5,483.1 L871.0,483.1 L871.5,483.1 L872.0,483.1 L872.5,483.1 L873.0,483.1 L873.5,483.1 L874.0,483.1 L874.5,483.1 L875.0,483.1 L875.5,483.1 L876.0,483.1 L876.5,483.1 L877.0,483.1 L877.5,483.1 L878.0,483.1 L878.5,483.1 L879.0,483.1 L879.5,483.1 L880.0,483.1 L880.5,483.1 L881.0,483.1 L881.5,483.1 L882.0,483.1 L882.5,483.1 L883.0,483.1 L883.5,483.1 L884.0,483.1 L884.5,483.1 L885.0,483.1 L885.5,483.1 L886.0,483.1 L886.5,483.1 L887.0,483.1 L887.5,483.1 L888.0,483.1 L888.5,483.1 L889.0,483.1 L889.5,483.1 L890.0,483.1 L890.5,483.1 L891.0,483.1 L891.5,483.1 L892.0,483.1 L892.5,483.1 L893.0,483.1 L893.5,483.1 L894.0,483.1 L894.5,483.1 L895.0,483.1 L895.5,483.1 L896.0,483.1 L896.5,483.1 L897.0,483.1 L897.5,483.1 L898.0,483.1 L898.5,483.1 L899.0,483.1 L899.5,483.1 L900.0,483.1 L900.5,483.1 L901.0,483.1 L901.5,483.1 L902.0,483.1 L902.5,483.1 L903.0,483.1 L903.5,483.1 L904.0,483.1 L904.5,483.1 L905.0,483.1 L905.5,483.1 L906.0,483.1 L906.5,483.1 L907.0,483.1 L907.5,483.1 L908.0,483.1 L908.5,483.1 L909.0,483.1 L909.5,483.1 L910.0,483.1 L910.5,483.1 L911.0,483.1 L911.5,483.1 L912.0,483.1 L912.5,483.1 L913.0,483.1 L913.5,483.1 L914.0,483.1 L914.5,483.1 L915.0,483.1 L915.5,483.1 L916.0,483.1 L916.5,483.1 L917.0,483.1 L917.5,483.1 L918.0,483.1 L918.5,483.1 L919.0,483.1 L919.5,483.1 L920.0,483.1 L920.5,483.1 L921.0,483.1 L921.5,483.1 L922.0,483.1 L922.5,483.1 L923.0,483.1 L923.5,483.1 L924.0,483.1 L924.5,483.1 L925.0,483.1 L925.5,483.1 L926.0,483.1 L926.5,483.1 L927.0,483.1 L927.5,483.1 L928.0,483.1 L928.5,483.1 L929.0,483.1 L929.5,483.1 L930.0,483.1 L930.5,483.1 L931.0,483.1 L931.5,483.1 L932.0,483.1 L932.5,483.1 L933.0,483.1 L933.5,483.1 L934.0,483.1 L934.5,483.1 L935.0,483.1 L935.5,483.1 L936.0,483.1 L936.5,483.1 L937.0,483.1 L937.5,483.1 L938.0,483.1 L938.5,483.1 L939.0,483.1 L939.5,483.1 L940.0,483.1 L940.5,483.1 L941.0,483.1 L941.5,483.1 L942.0,483.1 L942.5,483.1 L943.0,483.1 L943.5,483.1 L944.0,483.1 L944.5,483.1 L945.0,483.1 L945.5,483.1 L946.0,483.1 L946.5,483.1 L947.0,483.1 L947.5,483.1 L948.0,483.1 L948.5,483.1 L949.0,483.1 L949.5,483.1 L950.0,483.1 L950.5,483.1 L951.0,483.1 L951.5,483.1 L952.0,483.1 L952.5,483.1 L953.0,483.1 L953.5,483.1 L954.0,483.1 L954.5,483.1 L955.0,483.1 L955.5,483.1 L956.0,483.1 L956.5,483.1 L957.0,483.1 L957.5,483.1 L958.0,483.1 L958.5,483.1 L959.0,483.1 L959.5,483.1 L960.0,483.1 L960.5,483.1 L961.0,483.1 L961.5,483.1 L962.0,483.1 L962.5,483.1 L963.0,483.1 L963.5,483.1 L964.0,483.1 L964.5,483.1 L965.0,483.1 L965.5,483.1 L966.0,483.1 L966.5,483.1 L967.0,483.1 L967.5,483.1 L968.0,483.1 L968.5,483.1 L969.0,483.1 L969.5,483.1 L970.0,483.1 L970.5,483.1 L971.0,483.1 L971.5,483.1 L972.0,483.1 L972.5,483.1 L973.0,483.1 L973.5,483.1 L974.0,483.1 L974.5,483.1 L975.0,483.1 L975.5,483.1 L976.0,483.1 L976.5,483.1 L977.0,483.1 L977.5,483.1 L978.0,483.1 L978.5,483.1 L979.0,483.1 L979.5,483.1 L980.0,483.1 L980.5,483.1 L981.0,483.1 L981.5,483.1 L982.0,483.1 L982.5,483.1 L983.0,483.1 L983.5,483.1 L984.0,483.1 L984.5,483.1 L985.0,483.1 L985.5,483.1 L986.0,483.1 L986.5,483.1 L987.0,483.1 L987.5,483.1 L988.0,483.1 L988.5,483.1 L989.0,483.1 L989.5,483.1 L990.0,483.1 L990.5,483.1 L991.0,483.1 L991.5,483.1 L992.0,483.1 L992.5,483.1 L993.0,483.1 L993.5,483.1 L994.0,483.1 L994.5,483.1 L995.0,483.1 L995.5,483.1 L996.0,483.1 L996.5,483.1 L997.0,483.1 L997.5,483.1 L998.0,483.1 L998.5,483.1 L999.0,483.0 L999.5,483.0 L1000.0,483.0 L1000.5,483.0 L1001.0,483.0 L1001.5,482.9 L1002.0,482.9 L1002.5,482.9 L1003.0,482.8 L1003.5,482.8 L1004.0,482.7 L1004.5,482.6 L1005.0,482.5 L1005.5,482.4 L1006.0,482.2 L1006.5,482.1 L1007.0,481.8 L1007.5,481.6 L1008.0,481.3 L1008.5,481.0 L1009.0,480.6 L1009.5,480.2 L1010.0,479.7 L1010.5,479.1 L1011.0,478.5 L1011.5,477.7 L1012.0,476.9 L1012.5,475.9 L1013.0,474.8 L1013.5,473.5 L1014.0,472.1 L1014.5,470.5 L1015.0,468.8 L1015.5,466.8 L1016.0,464.6 L1016.5,462.1 L1017.0,459.4 L1017.5,456.4 L1018.0,453.1 L1018.5,449.5 L1019.0,445.6 L1019.5,441.3 L1020.0,436.6 L1020.5,431.6 L1021.0,426.1 L1021.5,420.3 L1022.0,414.0 L1022.5,407.3 L1023.0,400.2 L1023.5,392.6 L1024.0,384.6 L1024.5,376.2 L1025.0,367.4 L1025.5,358.2 L1026.0,348.6 L1026.5,338.6 L1027.0,328.3 L1027.5,317.7 L1028.0,306.8 L1028.5,295.7 L1029.0,284.4 L1029.5,273.0 L1030.0,261.4 L1030.5,249.9 L1031.0,238.4 L1031.5,227.0 L1032.0,215.7 L1032.5,204.7 L1033.0,193.9 L1033.5,183.5 L1034.0,173.5 L1034.5,164.0 L1035.0,155.0 L1035.5,146.7 L1036.0,139.0 L1036.5,132.0 L1037.0,125.7 L1037.5,120.3 L1038.0,115.6 L1038.5,111.9 L1039.0,109.0 L1039.5,107.1 L1040.0,106.1 L1040.5,106.0 L1041.0,106.8 L1041.5,108.5 L1042.0,111.2 L1042.5,114.7 L1043.0,119.0 L1043.5,124.2 L1044.0,130.1 L1044.5,136.8 L1045.0,144.2 L1045.5,152.1 L1046.0,160.7 L1046.5,169.7 L1047.0,179.2 L1047.5,189.1 L1048.0,199.3 L1048.5,209.8 L1049.0,220.5 L1049.5,231.4 L1050.0,242.3 L1050.5,253.3 L1051.0,264.2 L1051.5,275.1 L1052.0,285.9 L1052.5,296.5 L1053.0,306.9 L1053.5,317.0 L1054.0,326.9 L1054.5,336.5 L1055.0,345.8 L1055.5,354.8 L1056.0,363.4 L1056.5,371.6 L1057.0,379.4 L1057.5,386.9 L1058.0,393.9 L1058.5,400.5 L1059.0,406.8 L1059.5,412.6 L1060.0,418.0 L1060.5,423.0 L1061.0,427.6 L1061.5,431.9 L1062.0,435.7 L1062.5,439.1 L1063.0,442.1 L1063.5,444.8 L1064.0,447.1 L1064.5,449.0 L1065.0,450.5 L1065.5,451.6 L1066.0,452.4 L1066.5,452.9 L1067.0,452.9 L1067.5,452.7 L1068.0,452.1 L1068.5,451.2 L1069.0,450.0 L1069.5,448.5 L1070.0,446.7 L1070.5,444.7 L1071.0,442.5 L1071.5,440.2 L1072.0,437.7 L1072.5,435.0 L1073.0,432.4 L1073.5,429.7 L1074.0,427.0 L1074.5,424.4 L1075.0,421.8 L1075.5,419.4 L1076.0,417.2 L1076.5,415.2 L1077.0,413.4 L1077.5,411.9 L1078.0,410.7 L1078.5,409.7 L1079.0,409.1 L1079.5,408.8 L1080.0,408.8 L1080.5,409.1 L1081.0,409.8 L1081.5,410.7 L1082.0,411.9 L1082.5,413.3 L1083.0,415.0 L1083.5,416.9 L1084.0,418.9 L1084.5,421.1 L1085.0,423.4 L1085.5,425.9 L1086.0,428.3 L1086.5,430.9 L1087.0,433.4 L1087.5,435.9 L1088.0,438.5 L1088.5,440.9 L1089.0,443.4 L1089.5,445.7 L1090.0,448.0 L1090.5,450.2 L1091.0,452.3 L1091.5,454.3 L1092.0,456.2 L1092.5,458.0 L1093.0,459.7 L1093.5,461.4 L1094.0,462.9 L1094.5,464.3 L1095.0,465.6 L1095.5,466.9 L1096.0,468.1 L1096.5,469.2 L1097.0,470.2 L1097.5,471.1 L1098.0,472.0 L1098.5,472.8 L1099.0,473.6 L1099.5,474.3 L1100.0,474.9 L1100.5,475.5 L1101.0,476.1 L1101.5,476.6 L1102.0,477.1 L1102.5,477.5 L1103.0,477.9 L1103.5,478.3 L1104.0,478.7 L1104.5,479.0 L1105.0,479.3 L1105.5,479.6 L1106.0,479.8 L1106.5,480.1 L1107.0,480.3 L1107.5,480.5 L1108.0,480.7 L1108.5,480.9 L1109.0,481.0 L1109.5,481.2 L1110.0,481.3 L1110.5,481.5 L1111.0,481.6 L1111.5,481.7 L1112.0,481.8 L1112.5,481.9 L1113.0,482.0 L1113.5,482.1 L1114.0,482.1 L1114.5,482.2 L1115.0,482.3 L1115.5,482.3 L1116.0,482.4 L1116.5,482.5 L1117.0,482.5 L1117.5,482.5 L1118.0,482.6 L1118.5,482.6 L1119.0,482.7 L1119.5,482.7 L1120.0,482.7 L1120.5,482.8 L1121.0,482.8 L1121.5,482.8 L1122.0,482.8 L1122.5,482.8 L1123.0,482.9 L1123.5,482.9 L1124.0,482.9 L1124.5,482.9 L1125.0,482.9 L1125.5,482.9 L1126.0,482.9 L1126.5,483.0 L1127.0,483.0 L1127.5,483.0 L1128.0,483.0 L1128.5,483.0 L1129.0,483.0 L1129.5,483.0 L1130.0,483.0 L1130.5,483.0 L1131.0,483.0 L1131.5,483.0 L1132.0,483.0 L1132.5,483.0 L1133.0,483.0 L1133.5,483.1 L1134.0,483.1 L1134.5,483.1 L1135.0,483.1 L1135.5,483.1 L1136.0,483.1 L1136.5,483.1 L1137.0,483.1 L1137.5,483.1 L1138.0,483.1 L1138.5,483.1 L1139.0,483.1 L1139.5,483.1 L1140.0,483.1 L1140.5,483.1 L1141.0,483.1 L1141.5,483.1 L1142.0,483.1 L1142.5,483.1 L1143.0,483.1 L1143.5,483.1 L1144.0,483.1 L1144.5,483.1 L1145.0,483.1 L1145.5,483.1 L1146.0,483.1 L1146.5,483.1 L1147.0,483.1 L1147.5,483.1 L1148.0,483.1 L1148.5,483.1 L1149.0,483.1 L1149.5,483.1 L1150.0,483.1 L1150.5,483.1 L1151.0,483.1 L1151.5,483.1 L1152.0,483.1 L1152.5,483.1 L1153.0,483.1 L1153.5,483.1 L1154.0,483.1 L1154.5,483.1 L1155.0,483.1 L1155.5,483.1 L1156.0,483.1 L1156.5,483.1 L1157.0,483.1 L1157.5,483.1 L1158.0,483.1 L1158.5,483.1 L1159.0,483.1 L1159.5,483.1 L1160.0,483.1 L1160.5,483.1 L1161.0,483.1 L1161.5,483.1 L1162.0,483.1 L1162.5,483.1 L1163.0,483.1 L1163.5,483.1 L1164.0,483.1 L1164.5,483.1 L1165.0,483.1 L1165.5,483.1 L1166.0,483.1 L1166.5,483.1 L1167.0,483.1 L1167.5,483.1 L1168.0,483.1 L1168.5,483.1 L1169.0,483.1 L1169.5,483.1 L1170.0,483.1 L1170.5,483.1 L1171.0,483.1 L1171.5,483.1 L1172.0,483.1 L1172.5,483.1 L1173.0,483.1 L1173.5,483.1 L1174.0,483.1 L1174.5,483.1 L1175.0,483.1 L1175.5,483.1 L1176.0,483.1 L1176.5,483.1 L1177.0,483.1 L1177.5,483.1 L1178.0,483.1 L1178.5,483.1 L1179.0,483.1 L1179.5,483.1 L1180.0,483.1 L1180.5,483.1 L1181.0,483.1 L1181.5,483.1 L1182.0,483.1 L1182.5,483.1 L1183.0,483.1 L1183.5,483.1 L1184.0,483.1 L1184.5,483.1 L1185.0,483.1 L1185.5,483.1 L1186.0,483.1 L1186.5,483.1 L1187.0,483.1 L1187.5,483.1 L1188.0,483.1 L1188.5,483.1 L1189.0,483.1 L1189.5,483.1 L1190.0,483.1 L1190.5,483.1 L1191.0,483.1 L1191.5,483.1 L1192.0,483.1 L1192.5,483.1 L1193.0,483.1 L1193.5,483.1 L1194.0,483.1 L1194.5,483.1 L1195.0,483.1 L1195.5,483.1 L1196.0,483.1 L1196.5,483.1 L1197.0,483.1 L1197.5,483.1 L1198.0,483.1 L1198.5,483.1 L1199.0,483.1 L1199.5,483.1 L1200.0,483.1 L1200.5,483.1 L1201.0,483.1 L1201.5,483.1 L1202.0,483.1 L1202.5,483.1 L1203.0,483.1 L1203.5,483.1 L1204.0,483.1 L1204.5,483.1 L1205.0,483.1 L1205.5,483.1 L1206.0,483.1 L1206.5,483.1 L1207.0,483.1 L1207.5,483.1 L1208.0,483.1 L1208.5,483.1 L1209.0,483.1 L1209.5,483.1 L1210.0,483.1 L1210.5,483.1 L1211.0,483.1 L1211.5,483.1 L1212.0,483.1 L1212.5,483.1 L1213.0,483.1 L1213.5,483.1 L1214.0,483.1 L1214.5,483.1 L1215.0,483.1 L1215.5,483.1 L1216.0,483.1 L1216.5,483.1 L1217.0,483.1 L1217.5,483.1 L1218.0,483.1 L1218.5,483.1 L1219.0,483.1 L1219.5,483.1 L1220.0,483.1 L1220.5,483.1 L1221.0,483.1 L1221.5,483.1 L1222.0,483.0 L1222.5,483.0 L1223.0,483.0 L1223.5,483.0 L1224.0,483.0 L1224.5,482.9 L1225.0,482.9 L1225.5,482.8 L1226.0,482.8 L1226.5,482.7 L1227.0,482.6 L1227.5,482.5 L1228.0,482.4 L1228.5,482.2 L1229.0,482.0 L1229.5,481.8 L1230.0,481.5 L1230.5,481.2 L1231.0,480.8 L1231.5,480.4 L1232.0,479.9 L1232.5,479.4 L1233.0,478.7 L1233.5,478.0 L1234.0,477.2 L1234.5,476.3 L1235.0,475.2 L1235.5,474.1 L1236.0,472.8 L1236.5,471.4 L1237.0,469.9 L1237.5,468.2 L1238.0,466.3 L1238.5,464.3 L1239.0,462.2 L1239.5,459.9 L1240.0,457.5 L1240.5,454.9 L1241.0,452.1 L1241.5,449.3 L1242.0,446.3 L1242.5,443.3 L1243.0,440.1 L1243.5,436.9 L1244.0,433.7 L1244.5,430.4 L1245.0,427.1 L1245.5,423.9 L1246.0,420.7 L1246.5,417.6 L1247.0,414.6 L1247.5,411.8 L1248.0,409.1 L1248.5,406.6 L1249.0,404.3 L1249.5,402.3 L1250.0,400.5 L1250.5,399.0 L1251.0,397.8 L1251.5,396.9 L1252.0,396.3 L1252.5,396.1 L1253.0,396.1 L1253.5,396.5 L1254.0,397.1 L1254.5,398.1 L1255.0,399.4 L1255.5,400.9 L1256.0,402.7 L1256.5,404.7 L1257.0,406.9 L1257.5,409.3 L1258.0,411.9 L1258.5,414.6 L1259.0,417.4 L1259.5,420.3 L1260.0,423.2 L1260.5,426.2 L1261.0,429.3 L1261.5,432.3 L1262.0,435.3 L1262.5,438.2 L1263.0,441.1 L1263.5,443.9 L1264.0,446.6 L1264.5,449.3 L1265.0,451.8 L1265.5,454.2 L1266.0,456.5 L1266.5,458.7 L1267.0,460.7 L1267.5,462.7 L1268.0,464.5 L1268.5,466.2 L1269.0,467.7 L1269.5,469.2 L1270.0,470.5 L1270.5,471.8 L1271.0,472.9 L1271.5,474.0 L1272.0,474.9 L1272.5,475.8 L1273.0,476.6 L1273.5,477.3 L1274.0,478.0 L1274.5,478.6 L1275.0,479.1 L1275.5,479.6 L1276.0,480.0 L1276.5,480.4 L1277.0,480.8 L1277.5,481.1 L1278.0,481.4 L1278.5,481.6 L1279.0,481.9 L1279.5,482.1 L1280.0,482.2 L1280.5,482.4 L1281.0,482.5 L1281.5,482.7 L1282.0,482.8 L1282.5,482.9 L1283.0,483.0 L1283.5,483.1 L1284.0,483.1 L1284.5,483.2 L1285.0,483.2 L1285.5,483.3 L1286.0,483.3 L1286.5,483.4 L1287.0,483.4 L1287.5,483.5 L1288.0,483.5 L1288.5,483.5 L1289.0,483.5 L1289.5,483.5 L1290.0,483.6 L1290.5,483.6 L1291.0,483.6 L1291.5,483.6 L1292.0,483.6 L1292.5,483.6 L1293.0,483.6 L1293.5,483.6 L1294.0,483.6 L1294.5,483.7 L1295.0,483.7 L1295.5,483.7 L1296.0,483.7 L1296.5,483.7 L1297.0,483.7 L1297.5,483.7 L1298.0,483.7 L1298.5,483.7 L1299.0,483.7 L1299.5,483.7 L1300.0,483.7 L1300.5,483.7 L1301.0,483.7 L1301.5,483.7 L1302.0,483.7 L1302.5,483.7 L1303.0,483.7 L1303.5,483.7 L1304.0,483.7 L1304.5,483.7 L1305.0,483.7 L1305.5,483.7 L1306.0,483.7 L1306.5,483.7 L1307.0,483.7 L1307.5,483.7 L1308.0,483.7 L1308.5,483.7 L1309.0,483.7 L1309.5,483.7 L1310.0,483.7 L1310.5,483.7 L1311.0,483.7 L1311.5,483.7 L1312.0,483.7 L1312.5,483.7 L1313.0,483.7 L1313.5,483.7 L1314.0,483.7 L1314.5,483.7 L1315.0,483.7 L1315.5,483.7 L1316.0,483.7 L1316.5,483.7 L1317.0,483.7 L1317.5,483.7 L1318.0,483.7 L1318.5,483.7 L1319.0,483.7 L1319.5,483.7 L1320.0,483.7 L1320.5,483.7 L1321.0,483.7 L1321.5,483.7 L1322.0,483.7 L1322.5,483.7 L1323.0,483.7 L1323.5,483.7 L1324.0,483.7 L1324.5,483.7 L1325.0,483.7 L1325.5,483.7 L1326.0,483.7 L1326.5,483.7 L1327.0,483.7 L1327.5,483.7 L1328.0,483.7 L1328.5,483.7 L1329.0,483.7 L1329.5,483.7 L1330.0,483.7 L1330.5,483.7 L1331.0,483.7 L1331.5,483.7 L1332.0,483.7 L1332.5,483.7 L1333.0,483.7 L1333.5,483.7 L1334.0,483.7 L1334.5,483.7 L1335.0,483.7 L1335.5,483.7 L1336.0,483.7 L1336.5,483.7 L1337.0,483.7 L1337.5,483.7 L1338.0,483.7 L1338.5,483.7 L1339.0,483.7 L1339.5,483.7 L1340.0,483.7 L1340.5,483.7 L1341.0,483.7 L1341.5,483.7 L1342.0,483.7 L1342.5,483.7 L1343.0,483.7 L1343.5,483.7 L1344.0,483.7 L1344.5,483.7 L1345.0,483.7 L1345.5,483.7 L1346.0,483.7 L1346.5,483.7 L1347.0,483.7 L1347.5,483.7 L1348.0,483.7 L1348.5,483.7 L1349.0,483.7 L1349.5,483.7 L1350.0,483.7 L1350.5,483.7 L1351.0,483.7 L1351.5,483.7 L1352.0,483.7 L1352.5,483.7 L1353.0,483.7 L1353.5,483.7 L1354.0,483.7 L1354.5,483.7 L1355.0,483.7 L1355.5,483.7 L1356.0,483.7 L1356.5,483.7 L1357.0,483.7 L1357.5,483.7 L1358.0,483.7 L1358.5,483.7 L1359.0,483.7 L1359.5,483.7 L1360.0,483.7 L1360.5,483.7 L1361.0,483.7 L1361.5,483.7 L1362.0,483.7 L1362.5,483.7 L1363.0,483.7 L1363.5,483.7 L1364.0,483.7 L1364.5,483.7 L1365.0,483.7 L1365.5,483.7 L1366.0,483.7 L1366.5,483.7 L1367.0,483.7 L1367.5,483.7 L1368.0,483.7 L1368.5,483.7 L1369.0,483.7 L1369.5,483.7 L1370.0,483.7 L1370.5,483.7 L1371.0,483.7 L1371.5,483.7 L1372.0,483.7 L1372.5,483.7 L1373.0,483.7 L1373.5,483.7 L1374.0,483.7 L1374.5,483.7 L1375.0,483.7 L1375.5,483.7 L1376.0,483.7 L1376.5,483.7 L1377.0,483.7 L1377.5,483.7 L1378.0,483.7 L1378.5,483.7 L1379.0,483.7 L1379.5,483.7 L1380.0,483.7 L1380.5,483.7 L1381.0,483.7 L1381.5,483.7 L1382.0,483.7 L1382.5,483.7 L1383.0,483.7 L1383.5,483.7 L1384.0,483.7 L1384.5,483.7 L1385.0,483.7 L1385.5,483.7 L1386.0,483.7 L1386.5,483.7 L1387.0,483.7 L1387.5,483.7 L1388.0,483.7 L1388.5,483.7 L1389.0,483.7 L1389.5,483.7 L1390.0,483.7 L1390.5,483.7 L1391.0,483.7 L1391.5,483.7 L1392.0,483.7 L1392.5,483.7 L1393.0,483.7 L1393.5,483.7 L1394.0,483.7 L1394.5,483.7 L1395.0,483.7 L1395.5,483.7 L1396.0,483.7 L1396.5,483.7 L1397.0,483.7 L1397.5,483.7 L1398.0,483.7 L1398.5,483.7 L1399.0,483.7 L1399.5,483.7 L1400.0,483.7 L1400.5,483.7 L1401.0,483.7 L1401.5,483.7 L1402.0,483.7 L1402.5,483.7 L1403.0,483.7 L1403.5,483.7 L1404.0,483.7 L1404.5,483.7 L1405.0,483.7 L1405.5,483.7 L1406.0,483.7 L1406.5,483.7 L1407.0,483.7 L1407.5,483.7 L1408.0,483.7 L1408.5,483.7 L1409.0,483.7 L1409.5,483.7 L1410.0,483.7 L1410.5,483.7 L1411.0,483.7 L1411.5,483.7 L1412.0,483.7 L1412.5,483.7 L1413.0,483.7 L1413.5,483.7 L1414.0,483.7 L1414.5,483.7 L1415.0,483.7 L1415.5,483.7 L1416.0,483.7 L1416.5,483.7 L1417.0,483.7 L1417.5,483.7 L1418.0,483.7 L1418.5,483.7 L1419.0,483.7 L1419.5,483.7 L1420.0,483.7 L1420.5,483.7 L1421.0,483.7 L1421.5,483.7 L1422.0,483.7 L1422.5,483.7 L1423.0,483.7 L1423.5,483.7 L1424.0,483.7 L1424.5,483.7 L1425.0,483.7 L1425.5,483.7 L1426.0,483.7 L1426.5,483.7 L1427.0,483.7 L1427.5,483.7 L1428.0,483.7 L1428.5,483.7 L1429.0,483.7 L1429.5,483.7 L1430.0,483.7 L1430.5,483.7 L1431.0,483.7 L1431.5,483.7 L1432.0,483.7 L1432.5,483.7 L1433.0,483.7 L1433.5,483.7 L1434.0,483.7 L1434.5,483.7 L1435.0,483.7 L1435.5,483.7 L1436.0,483.7 L1436.5,483.7 L1437.0,483.7 L1437.5,483.7 L1438.0,483.7 L1438.5,483.7 L1439.0,483.7 L1439.5,483.7 L1440.0,483.7 L1440.5,483.7 L1441.0,483.7 L1441.5,483.7 L1442.0,483.7 L1442.5,483.7 L1443.0,483.7 L1443.5,483.7 L1444.0,483.7 L1444.5,483.7 L1445.0,483.7 L1445.5,483.7 L1446.0,483.7 L1446.5,483.7 L1447.0,483.7 L1447.5,483.7 L1448.0,483.7 L1448.5,483.7 L1449.0,483.7 L1449.5,483.7 L1450.0,483.7 L1450.5,483.7 L1451.0,483.7 L1451.5,483.7 L1452.0,483.7 L1452.5,483.7 L1453.0,483.7 L1453.5,483.7 L1454.0,483.7 L1454.5,483.7 L1455.0,483.7 L1455.5,483.7 L1456.0,483.7 L1456.5,483.7 L1457.0,483.7 L1457.5,483.7 L1458.0,483.7 L1458.5,483.7 L1459.0,483.7 L1459.5,483.7 L1460.0,483.7 L1460.5,483.7 L1461.0,483.7 L1461.5,483.7 L1462.0,483.7 L1462.5,483.7 L1463.0,483.7 L1463.5,483.7 L1464.0,483.7 L1464.5,483.7 L1465.0,483.7 L1465.5,483.7 L1466.0,483.7 L1466.5,483.7 L1467.0,483.7 L1467.5,483.7 L1468.0,483.7 L1468.5,483.7 L1469.0,483.7 L1469.5,483.7 L1470.0,483.7 L1470.5,483.7 L1471.0,483.7 L1471.5,483.7 L1472.0,483.7 L1472.5,483.7 L1473.0,483.7 L1473.5,483.7 L1474.0,483.7 L1474.5,483.7 L1475.0,483.7 L1475.5,483.7 L1476.0,483.7 L1476.5,483.7 L1477.0,483.7 L1477.5,483.7 L1478.0,483.7 L1478.5,483.7 L1479.0,483.7 L1479.5,483.7 L1480.0,483.7 L1480.5,483.7 L1481.0,483.7 L1481.5,483.7 L1482.0,483.7 L1482.5,483.7 L1483.0,483.7 L1483.5,483.7 L1484.0,483.7 L1484.5,483.7 L1485.0,483.7 L1485.5,483.7 L1486.0,483.7 L1486.5,483.7 L1487.0,483.7 L1487.5,483.7 L1488.0,483.7 L1488.5,483.7 L1489.0,483.7 L1489.5,483.7 L1490.0,483.7 L1490.5,483.7 L1491.0,483.7 L1491.5,483.7 L1492.0,483.7 L1492.5,483.7 L1493.0,483.7 L1493.5,483.7 L1494.0,483.7 L1494.5,483.7 L1495.0,483.7 L1495.5,483.7 L1496.0,483.7 L1496.5,483.7 L1497.0,483.7 L1497.5,483.7 L1498.0,483.7 L1498.5,483.7 L1499.0,483.7 L1499.5,483.7 L1500.0,483.7 L1500.5,483.7 L1501.0,483.7 L1501.5,483.7 L1502.0,483.7 L1502.5,483.7 L1503.0,483.7 L1503.5,483.7 L1504.0,483.7 L1504.5,483.7 L1505.0,483.7 L1505.5,483.7 L1506.0,483.7 L1506.5,483.7 L1507.0,483.7 L1507.5,483.7 L1508.0,483.7 L1508.5,483.7 L1509.0,483.7 L1509.5,483.7 L1510.0,483.7 L1510.5,483.7 L1511.0,483.7 L1511.5,483.7 L1512.0,483.7 L1512.5,483.7 L1513.0,483.7 L1513.5,483.7 L1514.0,483.7 L1514.5,483.7 L1515.0,483.7 L1515.5,483.7 L1516.0,483.7 L1516.5,483.7 L1517.0,483.7 L1517.5,483.7 L1518.0,483.7 L1518.5,483.7 L1519.0,483.7 L1519.5,483.7 L1520.0,483.7 L1520.5,483.7 L1521.0,483.7 L1521.5,483.7 L1522.0,483.6 L1522.5,483.6 L1523.0,483.6 L1523.5,483.6 L1524.0,483.6 L1524.5,483.6 L1525.0,483.5 L1525.5,483.5 L1526.0,483.5 L1526.5,483.4 L1527.0,483.4 L1527.5,483.4 L1528.0,483.3 L1528.5,483.2 L1529.0,483.2 L1529.5,483.1 L1530.0,483.0 L1530.5,482.9 L1531.0,482.8 L1531.5,482.7 L1532.0,482.6 L1532.5,482.5 L1533.0,482.4 L1533.5,482.3 L1534.0,482.1 L1534.5,482.0 L1535.0,481.8 L1535.5,481.7 L1536.0,481.6 L1536.5,481.4 L1537.0,481.3 L1537.5,481.1 L1538.0,481.0 L1538.5,480.9 L1539.0,480.8 L1539.5,480.7 L1540.0,480.6 L1540.5,480.5 L1541.0,480.4 L1541.5,480.3 L1542.0,480.3 L1542.5,480.2 L1543.0,480.2 L1543.5,480.2 L1544.0,480.2 L1544.5,480.2 L1545.0,480.3 L1545.5,480.3 L1546.0,480.4 L1546.5,480.5 L1547.0,480.5 L1547.5,480.6 L1548.0,480.7 L1548.5,480.8 L1549.0,481.0 L1549.5,481.1 L1550.0,481.2 L1550.5,481.3 L1551.0,481.5 L1551.5,481.6 L1552.0,481.7 L1552.5,481.9 L1553.0,482.0 L1553.5,482.1 L1554.0,482.2 L1554.5,482.3 L1555.0,482.4 L1555.5,482.5 L1556.0,482.6 L1556.5,482.7 L1557.0,482.8 L1557.5,482.9 L1558.0,483.0 L1558.5,483.0 L1559.0,483.1 L1559.5,483.2 L1560.0,483.2 L1560.5,483.3 L1561.0,483.3 L1561.5,483.4 L1562.0,483.4 L1562.5,483.4 L1563.0,483.5 L1563.5,483.5 L1564.0,483.5 L1564.5,483.5 L1565.0,483.5 L1565.5,483.6 L1566.0,483.6 L1566.5,483.6 L1567.0,483.6 L1567.5,483.6 L1568.0,483.6 L1568.5,483.6 L1569.0,483.6 L1569.5,483.6 L1570.0,483.7 L1570.5,483.7 L1571.0,483.7 L1571.5,483.7 L1572.0,483.7 L1572.5,483.7 L1573.0,483.7 L1573.5,483.7 L1574.0,483.7 L1574.5,483.7 L1575.0,483.7 L1575.5,483.7 L1576.0,483.7 L1576.5,483.7 L1577.0,483.7 L1577.5,483.7 L1578.0,483.7 L1578.5,483.7 L1579.0,483.7 L1579.5,483.7 L1580.0,483.7 L1580.5,483.7 L1581.0,483.7 L1581.5,483.7 L1582.0,483.7 L1582.5,483.7 L1583.0,483.7 L1583.5,483.7 L1584.0,483.7 L1584.5,483.7 L1585.0,483.7 L1585.5,483.7 L1586.0,483.7 L1586.5,483.7 L1587.0,483.7 L1587.5,483.7 L1588.0,483.7 L1588.5,483.7 L1589.0,483.7 L1589.5,483.7 L1590.0,483.7 L1590.5,483.7 L1591.0,483.7 L1591.5,483.7 L1592.0,483.7 L1592.5,483.7 L1593.0,483.7 L1593.5,483.7 L1594.0,483.7 L1594.5,483.7 L1595.0,483.7 L1595.5,483.7 L1596.0,483.7 L1596.5,483.7 L1597.0,483.7 L1597.5,483.7 L1598.0,483.7 L1598.5,483.7 L1599.0,483.7 L1599.5,483.7 L1600.0,483.7 L1600.5,483.7 L1601.0,483.7 L1601.5,483.7 L1602.0,483.7 L1602.5,483.7 L1603.0,483.7 L1603.5,483.7 L1604.0,483.7 L1604.5,483.7 L1605.0,483.7 L1605.5,483.7 L1606.0,483.7 L1606.5,483.7 L1607.0,483.7 L1607.5,483.7 L1608.0,483.7 L1608.5,483.7 L1609.0,483.7 L1609.5,483.7 L1610.0,483.7 L1610.5,483.7 L1611.0,483.7 L1611.5,483.7 L1612.0,483.7 L1612.5,483.7 L1613.0,483.7 L1613.5,483.7 L1614.0,483.7 L1614.5,483.7 L1615.0,483.7 L1615.5,483.7 L1616.0,483.7 L1616.5,483.7 L1617.0,483.7 L1617.5,483.7 L1618.0,483.7 L1618.5,483.7 L1619.0,483.7 L1619.5,483.7 L1620.0,483.7 L1620.5,483.7 L1621.0,483.7 L1621.5,483.7 L1622.0,483.7 L1622.5,483.7 L1623.0,483.7 L1623.5,483.7 L1624.0,483.7 L1624.5,483.7 L1625.0,483.7 L1625.5,483.7 L1626.0,483.7 L1626.5,483.7 L1627.0,483.7 L1627.5,483.7 L1628.0,483.7 L1628.5,483.7 L1629.0,483.7 L1629.5,483.7 L1630.0,483.7 L1630.5,483.7 L1631.0,483.7 L1631.5,483.7 L1632.0,483.7 L1632.5,483.7 L1633.0,483.7 L1633.5,483.7 L1634.0,483.7 L1634.5,483.7 L1635.0,483.7 L1635.5,483.7 L1636.0,483.7 L1636.5,483.7 L1637.0,483.7 L1637.5,483.7 L1638.0,483.7 L1638.5,483.7 L1639.0,483.7 L1639.5,483.7 L1640.0,483.7 L1640.5,483.7 L1641.0,483.7 L1641.5,483.7 L1642.0,483.7 L1642.5,483.7 L1643.0,483.7 L1643.5,483.7 L1644.0,483.7 L1644.5,483.7 L1645.0,483.7 L1645.5,483.7 L1646.0,483.7 L1646.5,483.7 L1647.0,483.7 L1647.5,483.7 L1648.0,483.7 L1648.5,483.7 L1649.0,483.7 L1649.5,483.7 L1650.0,483.7 L1650.5,483.7 L1651.0,483.7 L1651.5,483.7 L1652.0,483.7 L1652.5,483.7 L1653.0,483.7 L1653.5,483.7 L1654.0,483.7 L1654.5,483.7 L1655.0,483.7 L1655.5,483.7 L1656.0,483.7 L1656.5,483.7 L1657.0,483.7 L1657.5,483.7 L1658.0,483.7 L1658.5,483.7 L1659.0,483.7 L1659.5,483.7 L1660.0,483.7 L1660.5,483.7 L1661.0,483.7 L1661.5,483.7 L1662.0,483.7 L1662.5,483.7 L1663.0,483.7 L1663.5,483.7 L1664.0,483.7 L1664.5,483.7 L1665.0,483.7 L1665.5,483.7 L1666.0,483.7 L1666.5,483.7 L1667.0,483.7 L1667.5,483.7 L1668.0,483.7 L1668.5,483.7 L1669.0,483.7 L1669.5,483.7 L1670.0,483.7 L1670.5,483.7 L1671.0,483.7 L1671.5,483.7 L1672.0,483.7 L1672.5,483.7 L1673.0,483.7 L1673.5,483.7 L1674.0,483.7 L1674.5,483.7 L1675.0,483.7 L1675.5,483.7 L1676.0,483.7 L1676.5,483.7 L1677.0,483.7 L1677.5,483.7 L1678.0,483.7 L1678.5,483.7 L1679.0,483.7 L1679.5,483.7 L1680.0,483.7 L1680.5,483.7 L1681.0,483.7 L1681.5,483.7 L1682.0,483.7 L1682.5,483.7 L1683.0,483.7 L1683.5,483.7 L1684.0,483.7 L1684.5,483.7 L1685.0,483.7 L1685.5,483.7 L1686.0,483.7 L1686.5,483.7 L1687.0,483.7 L1687.5,483.7 L1688.0,483.7 L1688.5,483.7 L1689.0,483.7 L1689.5,483.7 L1690.0,483.7 L1690.5,483.7 L1691.0,483.7 L1691.5,483.7 L1692.0,483.7 L1692.5,483.7 L1693.0,483.7 L1693.5,483.7 L1694.0,483.7 L1694.5,483.7 L1695.0,483.7 L1695.5,483.7 L1696.0,483.7 L1696.5,483.7 L1697.0,483.7 L1697.5,483.7 L1698.0,483.7 L1698.5,483.7 L1699.0,483.7 L1699.5,483.7 L1700.0,483.7 L1700.5,483.7 L1701.0,483.7 L1701.5,483.7 L1702.0,483.7 L1702.5,483.7 L1703.0,483.7 L1703.5,483.7 L1704.0,483.7 L1704.5,483.7 L1705.0,483.7 L1705.5,483.7 L1706.0,483.7 L1706.5,483.7 L1707.0,483.7 L1707.5,483.7 L1708.0,483.7 L1708.5,483.7 L1709.0,483.7 L1709.5,483.7 L1710.0,483.7 L1710.5,483.7 L1711.0,483.7 L1711.5,483.7 L1712.0,483.7 L1712.5,483.7 L1713.0,483.7 L1713.5,483.7 L1714.0,483.7 L1714.5,483.7 L1715.0,483.7 L1715.5,483.7 L1716.0,483.7 L1716.5,483.7 L1717.0,483.7 L1717.5,483.7 L1718.0,483.7 L1718.5,483.7 L1719.0,483.7 L1719.5,483.7 L1720.0,483.7 L1720.5,483.7 L1721.0,483.7 L1721.5,483.7 L1722.0,483.7 L1722.5,483.7 L1723.0,483.7 L1723.5,483.7 L1724.0,483.7 L1724.5,483.7 L1725.0,483.7 L1725.5,483.7 L1726.0,483.7 L1726.5,483.7 L1727.0,483.7 L1727.5,483.7 L1728.0,483.7 L1728.5,483.7 L1729.0,483.7 L1729.5,483.7 L1730.0,483.7 L1730.5,483.7 L1731.0,483.7 L1731.5,483.7 L1732.0,483.7 L1732.5,483.7 L1733.0,483.7 L1733.5,483.7 L1734.0,483.7 L1734.5,483.7 L1735.0,483.7 L1735.5,483.7 L1736.0,483.7 L1736.5,483.7 L1737.0,483.7 L1737.5,483.7 L1738.0,483.7 L1738.5,483.7 L1739.0,483.7 L1739.5,483.7 L1740.0,483.7 L1740.5,483.7 L1741.0,483.7 L1741.5,483.7 L1742.0,483.7 L1742.5,483.7 L1743.0,483.7 L1743.5,483.7 L1744.0,483.7 L1744.5,483.7 L1745.0,483.7 L1745.5,483.7 L1746.0,483.7 L1746.5,483.7 L1747.0,483.7 L1747.5,483.7 L1748.0,483.7 L1748.5,483.7 L1749.0,483.7 L1749.5,483.7 L1750.0,483.7 L1750.5,483.7 L1751.0,483.7 L1751.5,483.7 L1752.0,483.7 L1752.5,483.7 L1753.0,483.7 L1753.5,483.7 L1754.0,483.7 L1754.5,483.7 L1755.0,483.7 L1755.5,483.7 L1756.0,483.7 L1756.5,483.7 L1757.0,483.7 L1757.5,483.7 L1758.0,483.7 L1758.5,483.7 L1759.0,483.7 L1759.5,483.7 L1760.0,483.7 L1760.5,483.7 L1761.0,483.7 L1761.5,483.7 L1762.0,483.7 L1762.5,483.7 L1763.0,483.7 L1763.5,483.7 L1764.0,483.7 L1764.5,483.7 L1765.0,483.7 L1765.5,483.7 L1766.0,483.7 L1766.5,483.7 L1767.0,483.7 L1767.5,483.7 L1768.0,483.7 L1768.5,483.7 L1769.0,483.7 L1769.5,483.7 L1770.0,483.7 L1770.5,483.7 L1771.0,483.7 L1771.5,483.7 L1772.0,483.7 L1772.5,483.7 L1773.0,483.7 L1773.5,483.7 L1774.0,483.7 L1774.5,483.7 L1775.0,483.7 L1775.5,483.7 L1776.0,483.7 L1776.5,483.7 L1777.0,483.7 L1777.5,483.7 L1778.0,483.7 L1778.5,483.7 L1779.0,483.7 L1779.5,483.7 L1780.0,483.7 L1780.5,483.7 L1781.0,483.7 L1781.5,483.7 L1782.0,483.7 L1782.5,483.7 L1783.0,483.7 L1783.5,483.7 L1784.0,483.7 L1784.5,483.7 L1785.0,483.7 L1785.5,483.7 L1786.0,483.7 L1786.5,483.7 L1787.0,483.7 L1787.5,483.7 L1788.0,483.7 L1788.5,483.7 L1789.0,483.7 L1789.5,483.7 L1790.0,483.7 L1790.5,483.7 L1791.0,483.7 L1791.5,483.7 L1792.0,483.7 L1792.5,483.7 L1793.0,483.7 L1793.5,483.6 L1794.0,483.6 L1794.5,483.6 L1795.0,483.6 L1795.5,483.6 L1796.0,483.6 L1796.5,483.5 L1797.0,483.5 L1797.5,483.5 L1798.0,483.4 L1798.5,483.4 L1799.0,483.3 L1799.5,483.3 L1800.0,483.2 L1800.5,483.2 L1801.0,483.1 L1801.5,483.0 L1802.0,482.9 L1802.5,482.8 L1803.0,482.6 L1803.5,482.5 L1804.0,482.4 L1804.5,482.2 L1805.0,482.0 L1805.5,481.9 L1806.0,481.7 L1806.5,481.5 L1807.0,481.2 L1807.5,481.0 L1808.0,480.8 L1808.5,480.5 L1809.0,480.2 L1809.5,480.0 L1810.0,479.7 L1810.5,479.4 L1811.0,479.1 L1811.5,478.8 L1812.0,478.5 L1812.5,478.3 L1813.0,478.0 L1813.5,477.7 L1814.0,477.4 L1814.5,477.2 L1815.0,477.0 L1815.5,476.7 L1816.0,476.5 L1816.5,476.3 L1817.0,476.2 L1817.5,476.0 L1818.0,475.9 L1818.5,475.8 L1819.0,475.8 L1819.5,475.7 L1820.0,475.7 L1820.5,475.7 L1821.0,475.8 L1821.5,475.8 L1822.0,475.9 L1822.5,476.0 L1823.0,476.2 L1823.5,476.3 L1824.0,476.5 L1824.5,476.7 L1825.0,476.9 L1825.5,477.1 L1826.0,477.4 L1826.5,477.6 L1827.0,477.9 L1827.5,478.1 L1828.0,478.4 L1828.5,478.7 L1829.0,478.9 L1829.5,479.2 L1830.0,479.5 L1830.5,479.7 L1831.0,480.0 L1831.5,480.2 L1832.0,480.4 L1832.5,480.7 L1833.0,480.9 L1833.5,481.1 L1834.0,481.3 L1834.5,481.5 L1835.0,481.6 L1835.5,481.8 L1836.0,481.9 L1836.5,482.1 L1837.0,482.2 L1837.5,482.3 L1838.0,482.4 L1838.5,482.4 L1839.0,482.5 L1839.5,482.6 L1840.0,482.6 L1840.5,482.6 L1841.0,482.6 L1841.5,482.6 L1842.0,482.6 L1842.5,482.6 L1843.0,482.6 L1843.5,482.5 L1844.0,482.5 L1844.5,482.4 L1845.0,482.3 L1845.5,482.2 L1846.0,482.1 L1846.5,482.0 L1847.0,481.8 L1847.5,481.7 L1848.0,481.6 L1848.5,481.4 L1849.0,481.2 L1849.5,481.0 L1850.0,480.9 L1850.5,480.7 L1851.0,480.5 L1851.5,480.3 L1852.0,480.1 L1852.5,479.9 L1853.0,479.7 L1853.5,479.5 L1854.0,479.4 L1854.5,479.2 L1855.0,479.0 L1855.5,478.9 L1856.0,478.8 L1856.5,478.6 L1857.0,478.5 L1857.5,478.4 L1858.0,478.3 L1858.5,478.3 L1859.0,478.2 L1859.5,478.2 L1860.0,478.2 L1860.5,478.2 L1861.0,478.2 L1861.5,478.3 L1862.0,478.3 L1862.5,478.4 L1863.0,478.5 L1863.5,478.6 L1864.0,478.7 L1864.5,478.9 L1865.0,479.0 L1865.5,479.2 L1866.0,479.3 L1866.5,479.5 L1867.0,479.7 L1867.5,479.9 L1868.0,480.1 L1868.5,480.2 L1869.0,480.4 L1869.5,480.6 L1870.0,480.8 L1870.5,481.0 L1871.0,481.1 L1871.5,481.3 L1872.0,481.5 L1872.5,481.6 L1873.0,481.8 L1873.5,481.9 L1874.0,482.1 L1874.5,482.2 L1875.0,482.3 L1875.5,482.4 L1876.0,482.5 L1876.5,482.6 L1877.0,482.7 L1877.5,482.8 L1878.0,482.9 L1878.5,483.0 L1879.0,483.1 L1879.5,483.1 L1880.0,483.2 L1880.5,483.2 L1881.0,483.3 L1881.5,483.3 L1882.0,483.4 L1882.5,483.4 L1883.0,483.4 L1883.5,483.5 L1884.0,483.5 L1884.5,483.5 L1885.0,483.5 L1885.5,483.5 L1886.0,483.6 L1886.5,483.6 L1887.0,483.6 L1887.5,483.6 L1888.0,483.6 L1888.5,483.6 L1889.0,483.6 L1889.5,483.6 L1890.0,483.6 L1890.5,483.7 L1891.0,483.7 L1891.5,483.7 L1892.0,483.7 L1892.5,483.7 L1893.0,483.7 L1893.5,483.7 L1894.0,483.7 L1894.5,483.7 L1895.0,483.7 L1895.5,483.7" fill="none" stroke="#585858" stroke-width="3.5" stroke-linecap="round" stroke-linejoin="round"/>
<path d="M184.5,897.3 L185.0,897.3 L185.5,897.3 L186.0,897.3 L186.5,897.3 L187.0,897.3 L187.5,897.3 L188.0,897.3 L188.5,897.3 L189.0,897.3 L189.5,897.3 L190.0,897.3 L190.5,897.3 L191.0,897.3 L191.5,897.3 L192.0,897.3 L192.5,897.3 L193.0,897.3 L193.5,897.3 L194.0,897.3 L194.5,897.3 L195.0,897.3 L195.5,897.3 L196.0,897.3 L196.5,897.3 L197.0,897.3 L197.5,897.3 L198.0,897.3 L198.5,897.3 L199.0,897.3 L199.5,897.3 L200.0,897.3 L200.5,897.3 L201.0,897.3 L201.5,897.3 L202.0,897.3 L202.5,897.3 L203.0,897.3 L203.5,897.3 L204.0,897.3 L204.5,897.3 L205.0,897.3 L205.5,897.3 L206.0,897.3 L206.5,897.3 L207.0,897.3 L207.5,897.3 L208.0,897.3 L208.5,897.3 L209.0,897.3 L209.5,897.3 L210.0,897.3 L210.5,897.3 L211.0,897.3 L211.5,897.3 L212.0,897.3 L212.5,897.3 L213.0,897.3 L213.5,897.3 L214.0,897.3 L214.5,897.3 L215.0,897.3 L215.5,897.3 L216.0,897.3 L216.5,897.3 L217.0,897.3 L217.5,897.3 L218.0,897.3 L218.5,897.3 L219.0,897.3 L219.5,897.3 L220.0,897.3 L220.5,897.3 L221.0,897.3 L221.5,897.3 L222.0,897.3 L222.5,897.3 L223.0,897.3 L223.5,897.3 L224.0,897.3 L224.5,897.3 L225.0,897.3 L225.5,897.3 L226.0,897.3 L226.5,897.3 L227.0,897.3 L227.5,897.3 L228.0,897.3 L228.5,897.3 L229.0,897.3 L229.5,897.3 L230.0,897.3 L230.5,897.3 L231.0,897.3 L231.5,897.3 L232.0,897.3 L232.5,897.3 L233.0,897.3 L233.5,897.3 L234.0,897.3 L234.5,897.3 L235.0,897.3 L235.5,897.3 L236.0,897.3 L236.5,897.3 L237.0,897.3 L237.5,897.3 L238.0,897.3 L238.5,897.3 L239.0,897.3 L239.5,897.3 L240.0,897.3 L240.5,897.3 L241.0,897.3 L241.5,897.3 L242.0,897.3 L242.5,897.3 L243.0,897.3 L243.5,897.3 L244.0,897.3 L244.5,897.3 L245.0,897.3 L245.5,897.3 L246.0,897.3 L246.5,897.3 L247.0,897.3 L247.5,897.3 L248.0,897.3 L248.5,897.3 L249.0,897.3 L249.5,897.3 L250.0,897.3 L250.5,897.3 L251.0,897.3 L251.5,897.3 L252.0,897.3 L252.5,897.3 L253.0,897.3 L253.5,897.3 L254.0,897.3 L254.5,897.3 L255.0,897.3 L255.5,897.3 L256.0,897.3 L256.5,897.3 L257.0,897.3 L257.5,897.3 L258.0,897.3 L258.5,897.3 L259.0,897.3 L259.5,897.3 L260.0,897.3 L260.5,897.3 L261.0,897.3 L261.5,897.3 L262.0,897.3 L262.5,897.3 L263.0,897.3 L263.5,897.3 L264.0,897.3 L264.5,897.3 L265.0,897.3 L265.5,897.3 L266.0,897.3 L266.5,897.3 L267.0,897.3 L267.5,897.3 L268.0,897.3 L268.5,897.3 L269.0,897.3 L269.5,897.3 L270.0,897.3 L270.5,897.3 L271.0,897.3 L271.5,897.3 L272.0,897.3 L272.5,897.3 L273.0,897.3 L273.5,897.3 L274.0,897.3 L274.5,897.3 L275.0,897.3 L275.5,897.3 L276.0,897.3 L276.5,897.3 L277.0,897.3 L277.5,897.3 L278.0,897.3 L278.5,897.3 L279.0,897.3 L279.5,897.3 L280.0,897.3 L280.5,897.3 L281.0,897.3 L281.5,897.3 L282.0,897.3 L282.5,897.3 L283.0,897.3 L283.5,897.3 L284.0,897.3 L284.5,897.3 L285.0,897.3 L285.5,897.3 L286.0,897.3 L286.5,897.3 L287.0,897.3 L287.5,897.3 L288.0,897.3 L288.5,897.3 L289.0,897.3 L289.5,897.3 L290.0,897.3 L290.5,897.3 L291.0,897.3 L291.5,897.3 L292.0,897.3 L292.5,897.3 L293.0,897.3 L293.5,897.3 L294.0,897.3 L294.5,897.3 L295.0,897.3 L295.5,897.3 L296.0,897.3 L296.5,897.3 L297.0,897.3 L297.5,897.3 L298.0,897.3 L298.5,897.3 L299.0,897.3 L299.5,897.3 L300.0,897.3 L300.5,897.3 L301.0,897.3 L301.5,897.3 L302.0,897.3 L302.5,897.3 L303.0,897.3 L303.5,897.3 L304.0,897.3 L304.5,897.3 L305.0,897.3 L305.5,897.3 L306.0,897.3 L306.5,897.3 L307.0,897.3 L307.5,897.3 L308.0,897.3 L308.5,897.3 L309.0,897.3 L309.5,897.3 L310.0,897.3 L310.5,897.3 L311.0,897.3 L311.5,897.3 L312.0,897.3 L312.5,897.3 L313.0,897.3 L313.5,897.3 L314.0,897.3 L314.5,897.3 L315.0,897.3 L315.5,897.3 L316.0,897.3 L316.5,897.3 L317.0,897.3 L317.5,897.3 L318.0,897.3 L318.5,897.3 L319.0,897.3 L319.5,897.3 L320.0,897.3 L320.5,897.3 L321.0,897.3 L321.5,897.3 L322.0,897.3 L322.5,897.3 L323.0,897.3 L323.5,897.3 L324.0,897.3 L324.5,897.3 L325.0,897.3 L325.5,897.3 L326.0,897.3 L326.5,897.3 L327.0,897.3 L327.5,897.3 L328.0,897.3 L328.5,897.3 L329.0,897.3 L329.5,897.3 L330.0,897.3 L330.5,897.3 L331.0,897.3 L331.5,897.3 L332.0,897.3 L332.5,897.3 L333.0,897.3 L333.5,897.3 L334.0,897.3 L334.5,897.3 L335.0,897.3 L335.5,897.3 L336.0,897.3 L336.5,897.3 L337.0,897.3 L337.5,897.3 L338.0,897.3 L338.5,897.3 L339.0,897.3 L339.5,897.3 L340.0,897.3 L340.5,897.3 L341.0,897.3 L341.5,897.3 L342.0,897.3 L342.5,897.3 L343.0,897.3 L343.5,897.3 L344.0,897.3 L344.5,897.3 L345.0,897.3 L345.5,897.3 L346.0,897.3 L346.5,897.3 L347.0,897.3 L347.5,897.3 L348.0,897.3 L348.5,897.3 L349.0,897.3 L349.5,897.3 L350.0,897.3 L350.5,897.3 L351.0,897.3 L351.5,897.3 L352.0,897.3 L352.5,897.3 L353.0,897.3 L353.5,897.3 L354.0,897.3 L354.5,897.3 L355.0,897.3 L355.5,897.3 L356.0,897.3 L356.5,897.3 L357.0,897.3 L357.5,897.3 L358.0,897.3 L358.5,897.3 L359.0,897.3 L359.5,897.3 L360.0,897.3 L360.5,897.3 L361.0,897.3 L361.5,897.3 L362.0,897.3 L362.5,897.3 L363.0,897.3 L363.5,897.3 L364.0,897.3 L364.5,897.3 L365.0,897.3 L365.5,897.3 L366.0,897.3 L366.5,897.3 L367.0,897.3 L367.5,897.3 L368.0,897.3 L368.5,897.3 L369.0,897.3 L369.5,897.3 L370.0,897.3 L370.5,897.3 L371.0,897.3 L371.5,897.3 L372.0,897.3 L372.5,897.3 L373.0,897.3 L373.5,897.3 L374.0,897.3 L374.5,897.3 L375.0,897.3 L375.5,897.3 L376.0,897.3 L376.5,897.3 L377.0,897.3 L377.5,897.3 L378.0,897.3 L378.5,897.3 L379.0,897.3 L379.5,897.3 L380.0,897.3 L380.5,897.3 L381.0,897.3 L381.5,897.3 L382.0,897.3 L382.5,897.3 L383.0,897.3 L383.5,897.3 L384.0,897.3 L384.5,897.3 L385.0,897.3 L385.5,897.3 L386.0,897.3 L386.5,897.3 L387.0,897.3 L387.5,897.3 L388.0,897.3 L388.5,897.3 L389.0,897.3 L389.5,897.3 L390.0,897.3 L390.5,897.3 L391.0,897.3 L391.5,897.3 L392.0,897.3 L392.5,897.3 L393.0,897.3 L393.5,897.3 L394.0,897.3 L394.5,897.3 L395.0,897.3 L395.5,897.3 L396.0,897.3 L396.5,897.3 L397.0,897.3 L397.5,897.3 L398.0,897.3 L398.5,897.3 L399.0,897.3 L399.5,897.3 L400.0,897.3 L400.5,897.3 L401.0,897.3 L401.5,897.3 L402.0,897.3 L402.5,897.3 L403.0,897.3 L403.5,897.3 L404.0,897.3 L404.5,897.3 L405.0,897.3 L405.5,897.3 L406.0,897.3 L406.5,897.3 L407.0,897.3 L407.5,897.3 L408.0,897.3 L408.5,897.3 L409.0,897.3 L409.5,897.3 L410.0,897.3 L410.5,897.3 L411.0,897.3 L411.5,897.3 L412.0,897.3 L412.5,897.3 L413.0,897.3 L413.5,897.3 L414.0,897.3 L414.5,897.3 L415.0,897.3 L415.5,897.3 L416.0,897.3 L416.5,897.3 L417.0,897.3 L417.5,897.3 L418.0,897.3 L418.5,897.3 L419.0,897.3 L419.5,897.3 L420.0,897.3 L420.5,897.3 L421.0,897.3 L421.5,897.3 L422.0,897.3 L422.5,897.3 L423.0,897.3 L423.5,897.3 L424.0,897.3 L424.5,897.3 L425.0,897.3 L425.5,897.3 L426.0,897.3 L426.5,897.3 L427.0,897.3 L427.5,897.3 L428.0,897.3 L428.5,897.3 L429.0,897.3 L429.5,897.3 L430.0,897.3 L430.5,897.3 L431.0,897.3 L431.5,897.3 L432.0,897.3 L432.5,897.3 L433.0,897.3 L433.5,897.3 L434.0,897.3 L434.5,897.3 L435.0,897.3 L435.5,897.3 L436.0,897.3 L436.5,897.3 L437.0,897.3 L437.5,897.3 L438.0,897.3 L438.5,897.3 L439.0,897.3 L439.5,897.3 L440.0,897.3 L440.5,897.3 L441.0,897.3 L441.5,897.3 L442.0,897.3 L442.5,897.3 L443.0,897.3 L443.5,897.3 L444.0,897.3 L444.5,897.3 L445.0,897.3 L445.5,897.3 L446.0,897.3 L446.5,897.3 L447.0,897.3 L447.5,897.3 L448.0,897.3 L448.5,897.3 L449.0,897.3 L449.5,897.3 L450.0,897.3 L450.5,897.3 L451.0,897.3 L451.5,897.3 L452.0,897.3 L452.5,897.3 L453.0,897.3 L453.5,897.3 L454.0,897.3 L454.5,897.3 L455.0,897.3 L455.5,897.3 L456.0,897.3 L456.5,897.3 L457.0,897.3 L457.5,897.3 L458.0,897.3 L458.5,897.3 L459.0,897.3 L459.5,897.3 L460.0,897.3 L460.5,897.3 L461.0,897.3 L461.5,897.3 L462.0,897.3 L462.5,897.3 L463.0,897.3 L463.5,897.3 L464.0,897.3 L464.5,897.3 L465.0,897.3 L465.5,897.3 L466.0,897.3 L466.5,897.3 L467.0,897.3 L467.5,897.3 L468.0,897.3 L468.5,897.3 L469.0,897.3 L469.5,897.3 L470.0,897.3 L470.5,897.3 L471.0,897.3 L471.5,897.3 L472.0,897.3 L472.5,897.3 L473.0,897.3 L473.5,897.3 L474.0,897.3 L474.5,897.3 L475.0,897.3 L475.5,897.3 L476.0,897.3 L476.5,897.3 L477.0,897.3 L477.5,897.3 L478.0,897.3 L478.5,897.3 L479.0,897.3 L479.5,897.3 L480.0,897.3 L480.5,897.3 L481.0,897.3 L481.5,897.3 L482.0,897.3 L482.5,897.4 L483.0,897.4 L483.5,897.4 L484.0,897.4 L484.5,897.4 L485.0,897.4 L485.5,897.4 L486.0,897.4 L486.5,897.5 L487.0,897.5 L487.5,897.5 L488.0,897.5 L488.5,897.6 L489.0,897.6 L489.5,897.6 L490.0,897.7 L490.5,897.7 L491.0,897.8 L491.5,897.8 L492.0,897.8 L492.5,897.9 L493.0,897.9 L493.5,898.0 L494.0,898.0 L494.5,898.1 L495.0,898.1 L495.5,898.2 L496.0,898.3 L496.5,898.3 L497.0,898.4 L497.5,898.4 L498.0,898.5 L498.5,898.5 L499.0,898.5 L499.5,898.6 L500.0,898.6 L500.5,898.6 L501.0,898.7 L501.5,898.7 L502.0,898.7 L502.5,898.7 L503.0,898.7 L503.5,898.7 L504.0,898.7 L504.5,898.7 L505.0,898.7 L505.5,898.6 L506.0,898.6 L506.5,898.6 L507.0,898.5 L507.5,898.5 L508.0,898.4 L508.5,898.4 L509.0,898.3 L509.5,898.2 L510.0,898.2 L510.5,898.1 L511.0,898.0 L511.5,898.0 L512.0,897.9 L512.5,897.8 L513.0,897.7 L513.5,897.6 L514.0,897.5 L514.5,897.4 L515.0,897.4 L515.5,897.2 L516.0,897.1 L516.5,897.0 L517.0,896.9 L517.5,896.8 L518.0,896.7 L518.5,896.6 L519.0,896.5 L519.5,896.4 L520.0,896.2 L520.5,896.1 L521.0,896.0 L521.5,895.9 L522.0,895.8 L522.5,895.7 L523.0,895.6 L523.5,895.6 L524.0,895.5 L524.5,895.4 L525.0,895.4 L525.5,895.4 L526.0,895.3 L526.5,895.3 L527.0,895.3 L527.5,895.3 L528.0,895.4 L528.5,895.4 L529.0,895.4 L529.5,895.5 L530.0,895.5 L530.5,895.6 L531.0,895.7 L531.5,895.7 L532.0,895.8 L532.5,895.9 L533.0,896.0 L533.5,896.1 L534.0,896.2 L534.5,896.2 L535.0,896.3 L535.5,896.4 L536.0,896.5 L536.5,896.5 L537.0,896.6 L537.5,896.7 L538.0,896.7 L538.5,896.8 L539.0,896.8 L539.5,896.9 L540.0,896.9 L540.5,897.0 L541.0,897.0 L541.5,897.0 L542.0,897.1 L542.5,897.1 L543.0,897.1 L543.5,897.1 L544.0,897.1 L544.5,897.2 L545.0,897.2 L545.5,897.2 L546.0,897.2 L546.5,897.2 L547.0,897.2 L547.5,897.2 L548.0,897.2 L548.5,897.2 L549.0,897.3 L549.5,897.3 L550.0,897.3 L550.5,897.3 L551.0,897.3 L551.5,897.3 L552.0,897.3 L552.5,897.3 L553.0,897.3 L553.5,897.3 L554.0,897.3 L554.5,897.3 L555.0,897.3 L555.5,897.3 L556.0,897.3 L556.5,897.3 L557.0,897.3 L557.5,897.3 L558.0,897.3 L558.5,897.3 L559.0,897.3 L559.5,897.3 L560.0,897.3 L560.5,897.3 L561.0,897.3 L561.5,897.3 L562.0,897.3 L562.5,897.3 L563.0,897.3 L563.5,897.3 L564.0,897.3 L564.5,897.3 L565.0,897.3 L565.5,897.3 L566.0,897.3 L566.5,897.3 L567.0,897.3 L567.5,897.3 L568.0,897.3 L568.5,897.3 L569.0,897.3 L569.5,897.3 L570.0,897.3 L570.5,897.3 L571.0,897.3 L571.5,897.3 L572.0,897.3 L572.5,897.3 L573.0,897.3 L573.5,897.3 L574.0,897.3 L574.5,897.3 L575.0,897.3 L575.5,897.3 L576.0,897.3 L576.5,897.3 L577.0,897.3 L577.5,897.3 L578.0,897.3 L578.5,897.3 L579.0,897.3 L579.5,897.3 L580.0,897.3 L580.5,897.3 L581.0,897.3 L581.5,897.3 L582.0,897.3 L582.5,897.3 L583.0,897.3 L583.5,897.3 L584.0,897.3 L584.5,897.3 L585.0,897.3 L585.5,897.3 L586.0,897.3 L586.5,897.3 L587.0,897.3 L587.5,897.3 L588.0,897.3 L588.5,897.3 L589.0,897.3 L589.5,897.3 L590.0,897.3 L590.5,897.3 L591.0,897.3 L591.5,897.3 L592.0,897.3 L592.5,897.3 L593.0,897.3 L593.5,897.3 L594.0,897.3 L594.5,897.3 L595.0,897.3 L595.5,897.3 L596.0,897.3 L596.5,897.3 L597.0,897.3 L597.5,897.3 L598.0,897.3 L598.5,897.3 L599.0,897.3 L599.5,897.3 L600.0,897.3 L600.5,897.3 L601.0,897.3 L601.5,897.3 L602.0,897.3 L602.5,897.3 L603.0,897.3 L603.5,897.3 L604.0,897.3 L604.5,897.3 L605.0,897.3 L605.5,897.3 L606.0,897.3 L606.5,897.3 L607.0,897.3 L607.5,897.3 L608.0,897.3 L608.5,897.3 L609.0,897.3 L609.5,897.3 L610.0,897.3 L610.5,897.3 L611.0,897.3 L611.5,897.3 L612.0,897.3 L612.5,897.3 L613.0,897.3 L613.5,897.3 L614.0,897.3 L614.5,897.3 L615.0,897.3 L615.5,897.3 L616.0,897.3 L616.5,897.3 L617.0,897.3 L617.5,897.3 L618.0,897.3 L618.5,897.3 L619.0,897.3 L619.5,897.3 L620.0,897.3 L620.5,897.3 L621.0,897.3 L621.5,897.3 L622.0,897.3 L622.5,897.3 L623.0,897.3 L623.5,897.3 L624.0,897.3 L624.5,897.3 L625.0,897.3 L625.5,897.3 L626.0,897.3 L626.5,897.3 L627.0,897.3 L627.5,897.3 L628.0,897.3 L628.5,897.3 L629.0,897.3 L629.5,897.3 L630.0,897.3 L630.5,897.3 L631.0,897.3 L631.5,897.3 L632.0,897.3 L632.5,897.3 L633.0,897.3 L633.5,897.3 L634.0,897.3 L634.5,897.3 L635.0,897.3 L635.5,897.3 L636.0,897.3 L636.5,897.3 L637.0,897.3 L637.5,897.3 L638.0,897.3 L638.5,897.3 L639.0,897.3 L639.5,897.3 L640.0,897.2 L640.5,897.2 L641.0,897.2 L641.5,897.2 L642.0,897.2 L642.5,897.2 L643.0,897.2 L643.5,897.2 L644.0,897.2 L644.5,897.2 L645.0,897.1 L645.5,897.1 L646.0,897.1 L646.5,897.1 L647.0,897.1 L647.5,897.0 L648.0,897.0 L648.5,897.0 L649.0,897.0 L649.5,897.0 L650.0,896.9 L650.5,896.9 L651.0,896.9 L651.5,896.8 L652.0,896.8 L652.5,896.8 L653.0,896.8 L653.5,896.7 L654.0,896.7 L654.5,896.7 L655.0,896.6 L655.5,896.6 L656.0,896.6 L656.5,896.5 L657.0,896.5 L657.5,896.5 L658.0,896.5 L658.5,896.4 L659.0,896.4 L659.5,896.4 L660.0,896.4 L660.5,896.4 L661.0,896.3 L661.5,896.3 L662.0,896.3 L662.5,896.3 L663.0,896.3 L663.5,896.3 L664.0,896.3 L664.5,896.3 L665.0,896.3 L665.5,896.3 L666.0,896.3 L666.5,896.3 L667.0,896.3 L667.5,896.4 L668.0,896.4 L668.5,896.4 L669.0,896.4 L669.5,896.4 L670.0,896.5 L670.5,896.5 L671.0,896.5 L671.5,896.5 L672.0,896.6 L672.5,896.6 L673.0,896.6 L673.5,896.7 L674.0,896.7 L674.5,896.7 L675.0,896.8 L675.5,896.8 L676.0,896.8 L676.5,896.8 L677.0,896.9 L677.5,896.9 L678.0,896.9 L678.5,897.0 L679.0,897.0 L679.5,897.0 L680.0,897.0 L680.5,897.0 L681.0,897.1 L681.5,897.1 L682.0,897.1 L682.5,897.1 L683.0,897.1 L683.5,897.1 L684.0,897.2 L684.5,897.2 L685.0,897.2 L685.5,897.2 L686.0,897.2 L686.5,897.2 L687.0,897.2 L687.5,897.2 L688.0,897.2 L688.5,897.2 L689.0,897.2 L689.5,897.2 L690.0,897.2 L690.5,897.2 L691.0,897.2 L691.5,897.2 L692.0,897.2 L692.5,897.2 L693.0,897.2 L693.5,897.2 L694.0,897.2 L694.5,897.2 L695.0,897.2 L695.5,897.2 L696.0,897.2 L696.5,897.1 L697.0,897.1 L697.5,897.1 L698.0,897.1 L698.5,897.0 L699.0,897.0 L699.5,897.0 L700.0,897.0 L700.5,896.9 L701.0,896.9 L701.5,896.8 L702.0,896.8 L702.5,896.8 L703.0,896.7 L703.5,896.7 L704.0,896.6 L704.5,896.6 L705.0,896.5 L705.5,896.5 L706.0,896.4 L706.5,896.4 L707.0,896.3 L707.5,896.3 L708.0,896.3 L708.5,896.2 L709.0,896.2 L709.5,896.1 L710.0,896.1 L710.5,896.1 L711.0,896.1 L711.5,896.0 L712.0,896.0 L712.5,896.0 L713.0,896.0 L713.5,896.0 L714.0,896.0 L714.5,896.0 L715.0,896.0 L715.5,896.0 L716.0,896.1 L716.5,896.1 L717.0,896.1 L717.5,896.1 L718.0,896.2 L718.5,896.2 L719.0,896.2 L719.5,896.3 L720.0,896.3 L720.5,896.4 L721.0,896.4 L721.5,896.5 L722.0,896.5 L722.5,896.6 L723.0,896.6 L723.5,896.6 L724.0,896.7 L724.5,896.7 L725.0,896.8 L725.5,896.8 L726.0,896.8 L726.5,896.9 L727.0,896.9 L727.5,897.0 L728.0,897.0 L728.5,897.0 L729.0,897.0 L729.5,897.1 L730.0,897.1 L730.5,897.1 L731.0,897.1 L731.5,897.1 L732.0,897.2 L732.5,897.2 L733.0,897.2 L733.5,897.2 L734.0,897.2 L734.5,897.2 L735.0,897.2 L735.5,897.2 L736.0,897.3 L736.5,897.3 L737.0,897.3 L737.5,897.3 L738.0,897.3 L738.5,897.3 L739.0,897.3 L739.5,897.3 L740.0,897.3 L740.5,897.3 L741.0,897.3 L741.5,897.3 L742.0,897.3 L742.5,897.3 L743.0,897.3 L743.5,897.3 L744.0,897.3 L744.5,897.3 L745.0,897.3 L745.5,897.3 L746.0,897.3 L746.5,897.3 L747.0,897.3 L747.5,897.3 L748.0,897.3 L748.5,897.3 L749.0,897.3 L749.5,897.3 L750.0,897.3 L750.5,897.3 L751.0,897.3 L751.5,897.3 L752.0,897.3 L752.5,897.3 L753.0,897.3 L753.5,897.3 L754.0,897.3 L754.5,897.3 L755.0,897.3 L755.5,897.3 L756.0,897.3 L756.5,897.3 L757.0,897.3 L757.5,897.3 L758.0,897.3 L758.5,897.3 L759.0,897.3 L759.5,897.3 L760.0,897.3 L760.5,897.3 L761.0,897.3 L761.5,897.3 L762.0,897.3 L762.5,897.3 L763.0,897.3 L763.5,897.3 L764.0,897.3 L764.5,897.3 L765.0,897.3 L765.5,897.3 L766.0,897.3 L766.5,897.3 L767.0,897.3 L767.5,897.3 L768.0,897.3 L768.5,897.3 L769.0,897.3 L769.5,897.3 L770.0,897.3 L770.5,897.3 L771.0,897.3 L771.5,897.3 L772.0,897.3 L772.5,897.3 L773.0,897.3 L773.5,897.3 L774.0,897.3 L774.5,897.3 L775.0,897.3 L775.5,897.3 L776.0,897.3 L776.5,897.3 L777.0,897.3 L777.5,897.3 L778.0,897.3 L778.5,897.3 L779.0,897.3 L779.5,897.3 L780.0,897.3 L780.5,897.3 L781.0,897.3 L781.5,897.3 L782.0,897.3 L782.5,897.3 L783.0,897.3 L783.5,897.3 L784.0,897.3 L784.5,897.3 L785.0,897.3 L785.5,897.3 L786.0,897.3 L786.5,897.3 L787.0,897.3 L787.5,897.3 L788.0,897.3 L788.5,897.3 L789.0,897.3 L789.5,897.3 L790.0,897.3 L790.5,897.3 L791.0,897.3 L791.5,897.3 L792.0,897.3 L792.5,897.3 L793.0,897.3 L793.5,897.3 L794.0,897.3 L794.5,897.3 L795.0,897.3 L795.5,897.3 L796.0,897.3 L796.5,897.3 L797.0,897.3 L797.5,897.3 L798.0,897.3 L798.5,897.3 L799.0,897.3 L799.5,897.3 L800.0,897.3 L800.5,897.3 L801.0,897.3 L801.5,897.3 L802.0,897.3 L802.5,897.3 L803.0,897.3 L803.5,897.3 L804.0,897.3 L804.5,897.3 L805.0,897.3 L805.5,897.3 L806.0,897.3 L806.5,897.3 L807.0,897.3 L807.5,897.3 L808.0,897.3 L808.5,897.3 L809.0,897.3 L809.5,897.3 L810.0,897.3 L810.5,897.3 L811.0,897.3 L811.5,897.3 L812.0,897.3 L812.5,897.3 L813.0,897.3 L813.5,897.3 L814.0,897.3 L814.5,897.3 L815.0,897.3 L815.5,897.3 L816.0,897.3 L816.5,897.3 L817.0,897.3 L817.5,897.3 L818.0,897.3 L818.5,897.3 L819.0,897.3 L819.5,897.3 L820.0,897.3 L820.5,897.3 L821.0,897.3 L821.5,897.3 L822.0,897.3 L822.5,897.3 L823.0,897.3 L823.5,897.3 L824.0,897.3 L824.5,897.3 L825.0,897.3 L825.5,897.3 L826.0,897.3 L826.5,897.3 L827.0,897.3 L827.5,897.3 L828.0,897.3 L828.5,897.3 L829.0,897.3 L829.5,897.3 L830.0,897.3 L830.5,897.3 L831.0,897.3 L831.5,897.3 L832.0,897.3 L832.5,897.3 L833.0,897.3 L833.5,897.3 L834.0,897.3 L834.5,897.3 L835.0,897.3 L835.5,897.3 L836.0,897.3 L836.5,897.3 L837.0,897.3 L837.5,897.3 L838.0,897.3 L838.5,897.3 L839.0,897.3 L839.5,897.3 L840.0,897.3 L840.5,897.3 L841.0,897.3 L841.5,897.3 L842.0,897.3 L842.5,897.3 L843.0,897.3 L843.5,897.3 L844.0,897.3 L844.5,897.3 L845.0,897.3 L845.5,897.3 L846.0,897.3 L846.5,897.3 L847.0,897.3 L847.5,897.3 L848.0,897.3 L848.5,897.3 L849.0,897.3 L849.5,897.3 L850.0,897.3 L850.5,897.3 L851.0,897.3 L851.5,897.3 L852.0,897.3 L852.5,897.3 L853.0,897.3 L853.5,897.3 L854.0,897.3 L854.5,897.3 L855.0,897.3 L855.5,897.3 L856.0,897.3 L856.5,897.3 L857.0,897.3 L857.5,897.3 L858.0,897.3 L858.5,897.3 L859.0,897.3 L859.5,897.3 L860.0,897.3 L860.5,897.3 L861.0,897.3 L861.5,897.3 L862.0,897.3 L862.5,897.3 L863.0,897.3 L863.5,897.3 L864.0,897.3 L864.5,897.3 L865.0,897.3 L865.5,897.3 L866.0,897.3 L866.5,897.3 L867.0,897.3 L867.5,897.3 L868.0,897.3 L868.5,897.3 L869.0,897.3 L869.5,897.3 L870.0,897.3 L870.5,897.3 L871.0,897.3 L871.5,897.3 L872.0,897.3 L872.5,897.3 L873.0,897.3 L873.5,897.3 L874.0,897.3 L874.5,897.3 L875.0,897.3 L875.5,897.3 L876.0,897.3 L876.5,897.3 L877.0,897.3 L877.5,897.3 L878.0,897.3 L878.5,897.3 L879.0,897.3 L879.5,897.3 L880.0,897.3 L880.5,897.3 L881.0,897.3 L881.5,897.3 L882.0,897.3 L882.5,897.3 L883.0,897.3 L883.5,897.3 L884.0,897.3 L884.5,897.3 L885.0,897.3 L885.5,897.3 L886.0,897.3 L886.5,897.3 L887.0,897.3 L887.5,897.3 L888.0,897.3 L888.5,897.3 L889.0,897.3 L889.5,897.3 L890.0,897.3 L890.5,897.3 L891.0,897.3 L891.5,897.3 L892.0,897.3 L892.5,897.3 L893.0,897.3 L893.5,897.3 L894.0,897.3 L894.5,897.3 L895.0,897.3 L895.5,897.3 L896.0,897.3 L896.5,897.3 L897.0,897.3 L897.5,897.3 L898.0,897.3 L898.5,897.3 L899.0,897.3 L899.5,897.3 L900.0,897.3 L900.5,897.3 L901.0,897.3 L901.5,897.3 L902.0,897.3 L902.5,897.3 L903.0,897.3 L903.5,897.3 L904.0,897.3 L904.5,897.3 L905.0,897.3 L905.5,897.3 L906.0,897.3 L906.5,897.3 L907.0,897.3 L907.5,897.3 L908.0,897.3 L908.5,897.3 L909.0,897.3 L909.5,897.3 L910.0,897.3 L910.5,897.3 L911.0,897.3 L911.5,897.3 L912.0,897.3 L912.5,897.3 L913.0,897.3 L913.5,897.3 L914.0,897.3 L914.5,897.3 L915.0,897.3 L915.5,897.3 L916.0,897.3 L916.5,897.3 L917.0,897.3 L917.5,897.3 L918.0,897.3 L918.5,897.3 L919.0,897.3 L919.5,897.3 L920.0,897.3 L920.5,897.3 L921.0,897.3 L921.5,897.3 L922.0,897.3 L922.5,897.3 L923.0,897.3 L923.5,897.3 L924.0,897.3 L924.5,897.3 L925.0,897.3 L925.5,897.3 L926.0,897.3 L926.5,897.3 L927.0,897.3 L927.5,897.3 L928.0,897.3 L928.5,897.3 L929.0,897.3 L929.5,897.3 L930.0,897.3 L930.5,897.3 L931.0,897.3 L931.5,897.3 L932.0,897.3 L932.5,897.3 L933.0,897.3 L933.5,897.3 L934.0,897.3 L934.5,897.3 L935.0,897.3 L935.5,897.3 L936.0,897.3 L936.5,897.3 L937.0,897.3 L937.5,897.3 L938.0,897.3 L938.5,897.3 L939.0,897.3 L939.5,897.3 L940.0,897.3 L940.5,897.3 L941.0,897.3 L941.5,897.3 L942.0,897.3 L942.5,897.3 L943.0,897.3 L943.5,897.3 L944.0,897.3 L944.5,897.3 L945.0,897.3 L945.5,897.3 L946.0,897.3 L946.5,897.3 L947.0,897.3 L947.5,897.3 L948.0,897.3 L948.5,897.3 L949.0,897.3 L949.5,897.3 L950.0,897.3 L950.5,897.3 L951.0,897.3 L951.5,897.3 L952.0,897.3 L952.5,897.3 L953.0,897.3 L953.5,897.3 L954.0,897.3 L954.5,897.3 L955.0,897.3 L955.5,897.3 L956.0,897.3 L956.5,897.3 L957.0,897.3 L957.5,897.3 L958.0,897.3 L958.5,897.3 L959.0,897.3 L959.5,897.3 L960.0,897.3 L960.5,897.3 L961.0,897.3 L961.5,897.3 L962.0,897.3 L962.5,897.3 L963.0,897.3 L963.5,897.3 L964.0,897.3 L964.5,897.3 L965.0,897.3 L965.5,897.3 L966.0,897.3 L966.5,897.3 L967.0,897.3 L967.5,897.3 L968.0,897.3 L968.5,897.3 L969.0,897.3 L969.5,897.3 L970.0,897.3 L970.5,897.3 L971.0,897.3 L971.5,897.3 L972.0,897.3 L972.5,897.3 L973.0,897.3 L973.5,897.3 L974.0,897.3 L974.5,897.3 L975.0,897.3 L975.5,897.3 L976.0,897.3 L976.5,897.3 L977.0,897.3 L977.5,897.3 L978.0,897.3 L978.5,897.3 L979.0,897.3 L979.5,897.3 L980.0,897.3 L980.5,897.3 L981.0,897.3 L981.5,897.3 L982.0,897.3 L982.5,897.3 L983.0,897.3 L983.5,897.3 L984.0,897.3 L984.5,897.3 L985.0,897.3 L985.5,897.3 L986.0,897.3 L986.5,897.3 L987.0,897.3 L987.5,897.3 L988.0,897.3 L988.5,897.3 L989.0,897.3 L989.5,897.3 L990.0,897.3 L990.5,897.3 L991.0,897.3 L991.5,897.3 L992.0,897.3 L992.5,897.3 L993.0,897.3 L993.5,897.3 L994.0,897.3 L994.5,897.3 L995.0,897.3 L995.5,897.3 L996.0,897.3 L996.5,897.3 L997.0,897.3 L997.5,897.3 L998.0,897.3 L998.5,897.3 L999.0,897.3 L999.5,897.3 L1000.0,897.3 L1000.5,897.3 L1001.0,897.3 L1001.5,897.3 L1002.0,897.3 L1002.5,897.3 L1003.0,897.3 L1003.5,897.3 L1004.0,897.3 L1004.5,897.3 L1005.0,897.3 L1005.5,897.3 L1006.0,897.3 L1006.5,897.3 L1007.0,897.3 L1007.5,897.3 L1008.0,897.3 L1008.5,897.4 L1009.0,897.4 L1009.5,897.4 L1010.0,897.4 L1010.5,897.4 L1011.0,897.4 L1011.5,897.4 L1012.0,897.5 L1012.5,897.5 L1013.0,897.5 L1013.5,897.6 L1014.0,897.6 L1014.5,897.6 L1015.0,897.7 L1015.5,897.7 L1016.0,897.8 L1016.5,897.9 L1017.0,898.0 L1017.5,898.1 L1018.0,898.2 L1018.5,898.3 L1019.0,898.4 L1019.5,898.5 L1020.0,898.7 L1020.5,898.8 L1021.0,899.0 L1021.5,899.2 L1022.0,899.4 L1022.5,899.6 L1023.0,899.8 L1023.5,900.1 L1024.0,900.3 L1024.5,900.6 L1025.0,900.9 L1025.5,901.2 L1026.0,901.5 L1026.5,901.9 L1027.0,902.2 L1027.5,902.6 L1028.0,902.9 L1028.5,903.3 L1029.0,903.7 L1029.5,904.1 L1030.0,904.5 L1030.5,904.9 L1031.0,905.3 L1031.5,905.7 L1032.0,906.1 L1032.5,906.5 L1033.0,906.8 L1033.5,907.2 L1034.0,907.5 L1034.5,907.9 L1035.0,908.2 L1035.5,908.5 L1036.0,908.7 L1036.5,909.0 L1037.0,909.2 L1037.5,909.4 L1038.0,909.5 L1038.5,909.6 L1039.0,909.7 L1039.5,909.8 L1040.0,909.8 L1040.5,909.8 L1041.0,909.7 L1041.5,909.6 L1042.0,909.5 L1042.5,909.4 L1043.0,909.2 L1043.5,909.0 L1044.0,908.7 L1044.5,908.5 L1045.0,908.2 L1045.5,907.9 L1046.0,907.5 L1046.5,907.2 L1047.0,906.8 L1047.5,906.5 L1048.0,906.1 L1048.5,905.7 L1049.0,905.3 L1049.5,904.9 L1050.0,904.5 L1050.5,904.1 L1051.0,903.7 L1051.5,903.3 L1052.0,902.9 L1052.5,902.5 L1053.0,902.2 L1053.5,901.8 L1054.0,901.5 L1054.5,901.1 L1055.0,900.8 L1055.5,900.5 L1056.0,900.2 L1056.5,899.9 L1057.0,899.5 L1057.5,899.2 L1058.0,898.9 L1058.5,898.6 L1059.0,898.2 L1059.5,897.8 L1060.0,897.3 L1060.5,896.9 L1061.0,896.3 L1061.5,895.7 L1062.0,894.9 L1062.5,894.1 L1063.0,893.1 L1063.5,891.9 L1064.0,890.6 L1064.5,889.1 L1065.0,887.3 L1065.5,885.4 L1066.0,883.1 L1066.5,880.6 L1067.0,877.8 L1067.5,874.7 L1068.0,871.2 L1068.5,867.5 L1069.0,863.4 L1069.5,859.0 L1070.0,854.3 L1070.5,849.4 L1071.0,844.2 L1071.5,838.8 L1072.0,833.3 L1072.5,827.6 L1073.0,821.9 L1073.5,816.2 L1074.0,810.6 L1074.5,805.1 L1075.0,799.8 L1075.5,794.8 L1076.0,790.2 L1076.5,785.9 L1077.0,782.1 L1077.5,778.8 L1078.0,776.0 L1078.5,773.8 L1079.0,772.1 L1079.5,771.1 L1080.0,770.7 L1080.5,770.9 L1081.0,771.7 L1081.5,773.0 L1082.0,774.8 L1082.5,777.1 L1083.0,779.9 L1083.5,783.0 L1084.0,786.5 L1084.5,790.3 L1085.0,794.3 L1085.5,798.4 L1086.0,802.7 L1086.5,807.1 L1087.0,811.6 L1087.5,816.0 L1088.0,820.4 L1088.5,824.7 L1089.0,828.9 L1089.5,833.0 L1090.0,837.0 L1090.5,840.8 L1091.0,844.5 L1091.5,848.0 L1092.0,851.3 L1092.5,854.4 L1093.0,857.4 L1093.5,860.1 L1094.0,862.8 L1094.5,865.2 L1095.0,867.5 L1095.5,869.7 L1096.0,871.7 L1096.5,873.5 L1097.0,875.3 L1097.5,876.9 L1098.0,878.4 L1098.5,879.8 L1099.0,881.1 L1099.5,882.2 L1100.0,883.4 L1100.5,884.4 L1101.0,885.3 L1101.5,886.2 L1102.0,887.0 L1102.5,887.8 L1103.0,888.5 L1103.5,889.2 L1104.0,889.8 L1104.5,890.3 L1105.0,890.8 L1105.5,891.3 L1106.0,891.8 L1106.5,892.2 L1107.0,892.5 L1107.5,892.9 L1108.0,893.2 L1108.5,893.5 L1109.0,893.8 L1109.5,894.1 L1110.0,894.3 L1110.5,894.5 L1111.0,894.7 L1111.5,894.9 L1112.0,895.1 L1112.5,895.3 L1113.0,895.4 L1113.5,895.6 L1114.0,895.7 L1114.5,895.8 L1115.0,895.9 L1115.5,896.0 L1116.0,896.1 L1116.5,896.2 L1117.0,896.3 L1117.5,896.4 L1118.0,896.4 L1118.5,896.5 L1119.0,896.5 L1119.5,896.6 L1120.0,896.7 L1120.5,896.7 L1121.0,896.7 L1121.5,896.8 L1122.0,896.8 L1122.5,896.9 L1123.0,896.9 L1123.5,896.9 L1124.0,897.0 L1124.5,897.0 L1125.0,897.0 L1125.5,897.0 L1126.0,897.0 L1126.5,897.1 L1127.0,897.1 L1127.5,897.1 L1128.0,897.1 L1128.5,897.1 L1129.0,897.1 L1129.5,897.2 L1130.0,897.2 L1130.5,897.2 L1131.0,897.2 L1131.5,897.2 L1132.0,897.2 L1132.5,897.2 L1133.0,897.2 L1133.5,897.2 L1134.0,897.2 L1134.5,897.2 L1135.0,897.2 L1135.5,897.2 L1136.0,897.2 L1136.5,897.2 L1137.0,897.3 L1137.5,897.3 L1138.0,897.3 L1138.5,897.3 L1139.0,897.3 L1139.5,897.3 L1140.0,897.3 L1140.5,897.3 L1141.0,897.3 L1141.5,897.3 L1142.0,897.3 L1142.5,897.3 L1143.0,897.3 L1143.5,897.3 L1144.0,897.3 L1144.5,897.3 L1145.0,897.3 L1145.5,897.3 L1146.0,897.3 L1146.5,897.3 L1147.0,897.3 L1147.5,897.3 L1148.0,897.3 L1148.5,897.3 L1149.0,897.3 L1149.5,897.3 L1150.0,897.3 L1150.5,897.3 L1151.0,897.3 L1151.5,897.3 L1152.0,897.3 L1152.5,897.3 L1153.0,897.3 L1153.5,897.3 L1154.0,897.3 L1154.5,897.3 L1155.0,897.3 L1155.5,897.3 L1156.0,897.3 L1156.5,897.3 L1157.0,897.3 L1157.5,897.3 L1158.0,897.3 L1158.5,897.3 L1159.0,897.3 L1159.5,897.3 L1160.0,897.3 L1160.5,897.3 L1161.0,897.3 L1161.5,897.3 L1162.0,897.3 L1162.5,897.3 L1163.0,897.3 L1163.5,897.3 L1164.0,897.3 L1164.5,897.3 L1165.0,897.3 L1165.5,897.3 L1166.0,897.3 L1166.5,897.3 L1167.0,897.3 L1167.5,897.3 L1168.0,897.3 L1168.5,897.3 L1169.0,897.3 L1169.5,897.3 L1170.0,897.3 L1170.5,897.3 L1171.0,897.3 L1171.5,897.3 L1172.0,897.3 L1172.5,897.3 L1173.0,897.3 L1173.5,897.3 L1174.0,897.3 L1174.5,897.3 L1175.0,897.3 L1175.5,897.3 L1176.0,897.3 L1176.5,897.3 L1177.0,897.3 L1177.5,897.3 L1178.0,897.3 L1178.5,897.3 L1179.0,897.3 L1179.5,897.3 L1180.0,897.3 L1180.5,897.3 L1181.0,897.3 L1181.5,897.3 L1182.0,897.3 L1182.5,897.3 L1183.0,897.3 L1183.5,897.3 L1184.0,897.3 L1184.5,897.3 L1185.0,897.3 L1185.5,897.3 L1186.0,897.3 L1186.5,897.3 L1187.0,897.3 L1187.5,897.3 L1188.0,897.3 L1188.5,897.3 L1189.0,897.3 L1189.5,897.3 L1190.0,897.3 L1190.5,897.3 L1191.0,897.3 L1191.5,897.3 L1192.0,897.3 L1192.5,897.3 L1193.0,897.3 L1193.5,897.3 L1194.0,897.3 L1194.5,897.3 L1195.0,897.3 L1195.5,897.3 L1196.0,897.3 L1196.5,897.3 L1197.0,897.3 L1197.5,897.3 L1198.0,897.3 L1198.5,897.3 L1199.0,897.3 L1199.5,897.3 L1200.0,897.3 L1200.5,897.3 L1201.0,897.3 L1201.5,897.3 L1202.0,897.3 L1202.5,897.3 L1203.0,897.3 L1203.5,897.3 L1204.0,897.3 L1204.5,897.3 L1205.0,897.3 L1205.5,897.3 L1206.0,897.3 L1206.5,897.3 L1207.0,897.3 L1207.5,897.3 L1208.0,897.3 L1208.5,897.3 L1209.0,897.3 L1209.5,897.3 L1210.0,897.3 L1210.5,897.3 L1211.0,897.3 L1211.5,897.3 L1212.0,897.3 L1212.5,897.3 L1213.0,897.3 L1213.5,897.3 L1214.0,897.3 L1214.5,897.3 L1215.0,897.3 L1215.5,897.3 L1216.0,897.3 L1216.5,897.3 L1217.0,897.3 L1217.5,897.3 L1218.0,897.3 L1218.5,897.3 L1219.0,897.3 L1219.5,897.3 L1220.0,897.3 L1220.5,897.3 L1221.0,897.3 L1221.5,897.3 L1222.0,897.3 L1222.5,897.3 L1223.0,897.3 L1223.5,897.3 L1224.0,897.3 L1224.5,897.3 L1225.0,897.3 L1225.5,897.3 L1226.0,897.3 L1226.5,897.3 L1227.0,897.3 L1227.5,897.3 L1228.0,897.3 L1228.5,897.3 L1229.0,897.3 L1229.5,897.3 L1230.0,897.3 L1230.5,897.4 L1231.0,897.4 L1231.5,897.4 L1232.0,897.4 L1232.5,897.4 L1233.0,897.5 L1233.5,897.5 L1234.0,897.5 L1234.5,897.6 L1235.0,897.6 L1235.5,897.7 L1236.0,897.8 L1236.5,897.9 L1237.0,898.0 L1237.5,898.1 L1238.0,898.2 L1238.5,898.3 L1239.0,898.5 L1239.5,898.6 L1240.0,898.8 L1240.5,899.0 L1241.0,899.2 L1241.5,899.4 L1242.0,899.6 L1242.5,899.8 L1243.0,900.1 L1243.5,900.3 L1244.0,900.6 L1244.5,900.8 L1245.0,901.1 L1245.5,901.4 L1246.0,901.6 L1246.5,901.9 L1247.0,902.1 L1247.5,902.3 L1248.0,902.5 L1248.5,902.7 L1249.0,902.9 L1249.5,903.0 L1250.0,903.1 L1250.5,903.2 L1251.0,903.3 L1251.5,903.3 L1252.0,903.3 L1252.5,903.3 L1253.0,903.2 L1253.5,903.1 L1254.0,903.0 L1254.5,902.8 L1255.0,902.7 L1255.5,902.5 L1256.0,902.3 L1256.5,902.0 L1257.0,901.8 L1257.5,901.6 L1258.0,901.3 L1258.5,901.0 L1259.0,900.8 L1259.5,900.5 L1260.0,900.3 L1260.5,900.0 L1261.0,899.8 L1261.5,899.6 L1262.0,899.3 L1262.5,899.1 L1263.0,898.9 L1263.5,898.7 L1264.0,898.6 L1264.5,898.4 L1265.0,898.3 L1265.5,898.2 L1266.0,898.0 L1266.5,897.9 L1267.0,897.9 L1267.5,897.8 L1268.0,897.7 L1268.5,897.6 L1269.0,897.6 L1269.5,897.5 L1270.0,897.5 L1270.5,897.5 L1271.0,897.4 L1271.5,897.4 L1272.0,897.4 L1272.5,897.4 L1273.0,897.4 L1273.5,897.3 L1274.0,897.3 L1274.5,897.3 L1275.0,897.3 L1275.5,897.3 L1276.0,897.3 L1276.5,897.3 L1277.0,897.3 L1277.5,897.3 L1278.0,897.3 L1278.5,897.3 L1279.0,897.3 L1279.5,897.3 L1280.0,897.3 L1280.5,897.3 L1281.0,897.3 L1281.5,897.3 L1282.0,897.3 L1282.5,897.3 L1283.0,897.3 L1283.5,897.3 L1284.0,897.3 L1284.5,897.3 L1285.0,897.3 L1285.5,897.3 L1286.0,897.3 L1286.5,897.3 L1287.0,897.3 L1287.5,897.3 L1288.0,897.3 L1288.5,897.3 L1289.0,897.3 L1289.5,897.3 L1290.0,897.3 L1290.5,897.3 L1291.0,897.3 L1291.5,897.3 L1292.0,897.3 L1292.5,897.3 L1293.0,897.3 L1293.5,897.3 L1294.0,897.3 L1294.5,897.3 L1295.0,897.3 L1295.5,897.3 L1296.0,897.3 L1296.5,897.3 L1297.0,897.3 L1297.5,897.3 L1298.0,897.3 L1298.5,897.3 L1299.0,897.3 L1299.5,897.3 L1300.0,897.3 L1300.5,897.3 L1301.0,897.3 L1301.5,897.3 L1302.0,897.3 L1302.5,897.3 L1303.0,897.3 L1303.5,897.3 L1304.0,897.3 L1304.5,897.3 L1305.0,897.3 L1305.5,897.3 L1306.0,897.3 L1306.5,897.3 L1307.0,897.3 L1307.5,897.3 L1308.0,897.3 L1308.5,897.3 L1309.0,897.3 L1309.5,897.3 L1310.0,897.3 L1310.5,897.3 L1311.0,897.3 L1311.5,897.3 L1312.0,897.3 L1312.5,897.3 L1313.0,897.3 L1313.5,897.3 L1314.0,897.3 L1314.5,897.3 L1315.0,897.3 L1315.5,897.3 L1316.0,897.3 L1316.5,897.3 L1317.0,897.3 L1317.5,897.3 L1318.0,897.3 L1318.5,897.3 L1319.0,897.3 L1319.5,897.3 L1320.0,897.3 L1320.5,897.3 L1321.0,897.3 L1321.5,897.3 L1322.0,897.3 L1322.5,897.3 L1323.0,897.3 L1323.5,897.3 L1324.0,897.3 L1324.5,897.3 L1325.0,897.3 L1325.5,897.3 L1326.0,897.3 L1326.5,897.3 L1327.0,897.3 L1327.5,897.3 L1328.0,897.3 L1328.5,897.3 L1329.0,897.3 L1329.5,897.3 L1330.0,897.3 L1330.5,897.3 L1331.0,897.3 L1331.5,897.3 L1332.0,897.3 L1332.5,897.3 L1333.0,897.3 L1333.5,897.3 L1334.0,897.3 L1334.5,897.3 L1335.0,897.3 L1335.5,897.3 L1336.0,897.3 L1336.5,897.3 L1337.0,897.3 L1337.5,897.3 L1338.0,897.3 L1338.5,897.3 L1339.0,897.3 L1339.5,897.3 L1340.0,897.3 L1340.5,897.3 L1341.0,897.3 L1341.5,897.3 L1342.0,897.3 L1342.5,897.3 L1343.0,897.3 L1343.5,897.3 L1344.0,897.3 L1344.5,897.3 L1345.0,897.3 L1345.5,897.3 L1346.0,897.3 L1346.5,897.3 L1347.0,897.3 L1347.5,897.3 L1348.0,897.3 L1348.5,897.3 L1349.0,897.3 L1349.5,897.3 L1350.0,897.3 L1350.5,897.3 L1351.0,897.3 L1351.5,897.3 L1352.0,897.3 L1352.5,897.3 L1353.0,897.3 L1353.5,897.3 L1354.0,897.3 L1354.5,897.3 L1355.0,897.3 L1355.5,897.3 L1356.0,897.3 L1356.5,897.3 L1357.0,897.3 L1357.5,897.3 L1358.0,897.3 L1358.5,897.3 L1359.0,897.3 L1359.5,897.3 L1360.0,897.3 L1360.5,897.3 L1361.0,897.3 L1361.5,897.3 L1362.0,897.3 L1362.5,897.3 L1363.0,897.3 L1363.5,897.3 L1364.0,897.3 L1364.5,897.3 L1365.0,897.3 L1365.5,897.3 L1366.0,897.3 L1366.5,897.3 L1367.0,897.3 L1367.5,897.3 L1368.0,897.3 L1368.5,897.3 L1369.0,897.3 L1369.5,897.3 L1370.0,897.3 L1370.5,897.3 L1371.0,897.3 L1371.5,897.3 L1372.0,897.3 L1372.5,897.3 L1373.0,897.3 L1373.5,897.3 L1374.0,897.3 L1374.5,897.3 L1375.0,897.3 L1375.5,897.3 L1376.0,897.3 L1376.5,897.3 L1377.0,897.3 L1377.5,897.3 L1378.0,897.3 L1378.5,897.3 L1379.0,897.3 L1379.5,897.3 L1380.0,897.3 L1380.5,897.3 L1381.0,897.3 L1381.5,897.3 L1382.0,897.3 L1382.5,897.3 L1383.0,897.3 L1383.5,897.3 L1384.0,897.3 L1384.5,897.3 L1385.0,897.3 L1385.5,897.3 L1386.0,897.3 L1386.5,897.3 L1387.0,897.3 L1387.5,897.3 L1388.0,897.3 L1388.5,897.3 L1389.0,897.3 L1389.5,897.3 L1390.0,897.3 L1390.5,897.3 L1391.0,897.3 L1391.5,897.3 L1392.0,897.3 L1392.5,897.3 L1393.0,897.3 L1393.5,897.3 L1394.0,897.3 L1394.5,897.3 L1395.0,897.3 L1395.5,897.3 L1396.0,897.3 L1396.5,897.3 L1397.0,897.3 L1397.5,897.3 L1398.0,897.3 L1398.5,897.3 L1399.0,897.3 L1399.5,897.3 L1400.0,897.3 L1400.5,897.3 L1401.0,897.3 L1401.5,897.3 L1402.0,897.3 L1402.5,897.3 L1403.0,897.3 L1403.5,897.3 L1404.0,897.3 L1404.5,897.3 L1405.0,897.3 L1405.5,897.3 L1406.0,897.3 L1406.5,897.3 L1407.0,897.3 L1407.5,897.3 L1408.0,897.3 L1408.5,897.3 L1409.0,897.3 L1409.5,897.3 L1410.0,897.3 L1410.5,897.3 L1411.0,897.3 L1411.5,897.3 L1412.0,897.3 L1412.5,897.3 L1413.0,897.3 L1413.5,897.3 L1414.0,897.3 L1414.5,897.3 L1415.0,897.3 L1415.5,897.3 L1416.0,897.3 L1416.5,897.3 L1417.0,897.3 L1417.5,897.3 L1418.0,897.3 L1418.5,897.3 L1419.0,897.3 L1419.5,897.3 L1420.0,897.3 L1420.5,897.3 L1421.0,897.3 L1421.5,897.3 L1422.0,897.3 L1422.5,897.3 L1423.0,897.3 L1423.5,897.3 L1424.0,897.3 L1424.5,897.3 L1425.0,897.3 L1425.5,897.3 L1426.0,897.3 L1426.5,897.3 L1427.0,897.3 L1427.5,897.3 L1428.0,897.3 L1428.5,897.3 L1429.0,897.3 L1429.5,897.3 L1430.0,897.3 L1430.5,897.3 L1431.0,897.3 L1431.5,897.3 L1432.0,897.3 L1432.5,897.3 L1433.0,897.3 L1433.5,897.3 L1434.0,897.3 L1434.5,897.3 L1435.0,897.3 L1435.5,897.3 L1436.0,897.3 L1436.5,897.3 L1437.0,897.3 L1437.5,897.3 L1438.0,897.3 L1438.5,897.3 L1439.0,897.3 L1439.5,897.3 L1440.0,897.3 L1440.5,897.3 L1441.0,897.3 L1441.5,897.3 L1442.0,897.3 L1442.5,897.3 L1443.0,897.3 L1443.5,897.3 L1444.0,897.3 L1444.5,897.3 L1445.0,897.3 L1445.5,897.3 L1446.0,897.3 L1446.5,897.3 L1447.0,897.3 L1447.5,897.3 L1448.0,897.3 L1448.5,897.3 L1449.0,897.3 L1449.5,897.3 L1450.0,897.3 L1450.5,897.3 L1451.0,897.3 L1451.5,897.3 L1452.0,897.3 L1452.5,897.3 L1453.0,897.3 L1453.5,897.3 L1454.0,897.3 L1454.5,897.3 L1455.0,897.3 L1455.5,897.3 L1456.0,897.3 L1456.5,897.3 L1457.0,897.3 L1457.5,897.3 L1458.0,897.3 L1458.5,897.3 L1459.0,897.3 L1459.5,897.3 L1460.0,897.3 L1460.5,897.3 L1461.0,897.3 L1461.5,897.3 L1462.0,897.3 L1462.5,897.3 L1463.0,897.3 L1463.5,897.3 L1464.0,897.3 L1464.5,897.3 L1465.0,897.3 L1465.5,897.3 L1466.0,897.3 L1466.5,897.3 L1467.0,897.3 L1467.5,897.3 L1468.0,897.3 L1468.5,897.3 L1469.0,897.3 L1469.5,897.3 L1470.0,897.3 L1470.5,897.3 L1471.0,897.3 L1471.5,897.3 L1472.0,897.3 L1472.5,897.3 L1473.0,897.3 L1473.5,897.3 L1474.0,897.3 L1474.5,897.3 L1475.0,897.3 L1475.5,897.3 L1476.0,897.3 L1476.5,897.3 L1477.0,897.3 L1477.5,897.3 L1478.0,897.3 L1478.5,897.3 L1479.0,897.3 L1479.5,897.3 L1480.0,897.3 L1480.5,897.3 L1481.0,897.3 L1481.5,897.3 L1482.0,897.3 L1482.5,897.3 L1483.0,897.3 L1483.5,897.3 L1484.0,897.3 L1484.5,897.3 L1485.0,897.3 L1485.5,897.3 L1486.0,897.3 L1486.5,897.3 L1487.0,897.3 L1487.5,897.3 L1488.0,897.3 L1488.5,897.3 L1489.0,897.3 L1489.5,897.3 L1490.0,897.3 L1490.5,897.3 L1491.0,897.3 L1491.5,897.3 L1492.0,897.3 L1492.5,897.3 L1493.0,897.3 L1493.5,897.3 L1494.0,897.3 L1494.5,897.3 L1495.0,897.3 L1495.5,897.3 L1496.0,897.3 L1496.5,897.3 L1497.0,897.3 L1497.5,897.3 L1498.0,897.3 L1498.5,897.3 L1499.0,897.3 L1499.5,897.3 L1500.0,897.3 L1500.5,897.3 L1501.0,897.3 L1501.5,897.3 L1502.0,897.3 L1502.5,897.3 L1503.0,897.3 L1503.5,897.3 L1504.0,897.3 L1504.5,897.3 L1505.0,897.3 L1505.5,897.3 L1506.0,897.3 L1506.5,897.3 L1507.0,897.3 L1507.5,897.3 L1508.0,897.3 L1508.5,897.3 L1509.0,897.3 L1509.5,897.3 L1510.0,897.3 L1510.5,897.3 L1511.0,897.3 L1511.5,897.3 L1512.0,897.3 L1512.5,897.3 L1513.0,897.3 L1513.5,897.3 L1514.0,897.3 L1514.5,897.3 L1515.0,897.3 L1515.5,897.3 L1516.0,897.3 L1516.5,897.3 L1517.0,897.3 L1517.5,897.3 L1518.0,897.3 L1518.5,897.3 L1519.0,897.3 L1519.5,897.3 L1520.0,897.3 L1520.5,897.3 L1521.0,897.3 L1521.5,897.3 L1522.0,897.2 L1522.5,897.2 L1523.0,897.2 L1523.5,897.2 L1524.0,897.2 L1524.5,897.2 L1525.0,897.1 L1525.5,897.1 L1526.0,897.1 L1526.5,897.0 L1527.0,897.0 L1527.5,896.9 L1528.0,896.9 L1528.5,896.8 L1529.0,896.7 L1529.5,896.7 L1530.0,896.6 L1530.5,896.5 L1531.0,896.4 L1531.5,896.3 L1532.0,896.2 L1532.5,896.0 L1533.0,895.9 L1533.5,895.8 L1534.0,895.6 L1534.5,895.5 L1535.0,895.3 L1535.5,895.2 L1536.0,895.0 L1536.5,894.9 L1537.0,894.7 L1537.5,894.6 L1538.0,894.5 L1538.5,894.3 L1539.0,894.2 L1539.5,894.1 L1540.0,894.0 L1540.5,893.9 L1541.0,893.8 L1541.5,893.7 L1542.0,893.7 L1542.5,893.6 L1543.0,893.6 L1543.5,893.6 L1544.0,893.6 L1544.5,893.6 L1545.0,893.7 L1545.5,893.7 L1546.0,893.8 L1546.5,893.9 L1547.0,894.0 L1547.5,894.1 L1548.0,894.2 L1548.5,894.3 L1549.0,894.4 L1549.5,894.5 L1550.0,894.7 L1550.5,894.8 L1551.0,894.9 L1551.5,895.1 L1552.0,895.2 L1552.5,895.4 L1553.0,895.5 L1553.5,895.6 L1554.0,895.7 L1554.5,895.9 L1555.0,896.0 L1555.5,896.1 L1556.0,896.2 L1556.5,896.3 L1557.0,896.4 L1557.5,896.5 L1558.0,896.5 L1558.5,896.6 L1559.0,896.7 L1559.5,896.7 L1560.0,896.8 L1560.5,896.8 L1561.0,896.9 L1561.5,896.9 L1562.0,897.0 L1562.5,897.0 L1563.0,897.0 L1563.5,897.1 L1564.0,897.1 L1564.5,897.1 L1565.0,897.1 L1565.5,897.2 L1566.0,897.2 L1566.5,897.2 L1567.0,897.2 L1567.5,897.2 L1568.0,897.2 L1568.5,897.2 L1569.0,897.2 L1569.5,897.2 L1570.0,897.3 L1570.5,897.3 L1571.0,897.3 L1571.5,897.3 L1572.0,897.3 L1572.5,897.3 L1573.0,897.3 L1573.5,897.3 L1574.0,897.3 L1574.5,897.3 L1575.0,897.3 L1575.5,897.3 L1576.0,897.3 L1576.5,897.3 L1577.0,897.3 L1577.5,897.3 L1578.0,897.3 L1578.5,897.3 L1579.0,897.3 L1579.5,897.3 L1580.0,897.3 L1580.5,897.3 L1581.0,897.3 L1581.5,897.3 L1582.0,897.3 L1582.5,897.3 L1583.0,897.3 L1583.5,897.3 L1584.0,897.3 L1584.5,897.3 L1585.0,897.3 L1585.5,897.3 L1586.0,897.3 L1586.5,897.3 L1587.0,897.3 L1587.5,897.3 L1588.0,897.3 L1588.5,897.3 L1589.0,897.3 L1589.5,897.3 L1590.0,897.3 L1590.5,897.3 L1591.0,897.3 L1591.5,897.3 L1592.0,897.3 L1592.5,897.3 L1593.0,897.3 L1593.5,897.3 L1594.0,897.3 L1594.5,897.3 L1595.0,897.3 L1595.5,897.3 L1596.0,897.3 L1596.5,897.3 L1597.0,897.3 L1597.5,897.3 L1598.0,897.3 L1598.5,897.3 L1599.0,897.3 L1599.5,897.3 L1600.0,897.3 L1600.5,897.3 L1601.0,897.3 L1601.5,897.3 L1602.0,897.3 L1602.5,897.3 L1603.0,897.3 L1603.5,897.3 L1604.0,897.3 L1604.5,897.3 L1605.0,897.3 L1605.5,897.3 L1606.0,897.3 L1606.5,897.3 L1607.0,897.3 L1607.5,897.3 L1608.0,897.3 L1608.5,897.3 L1609.0,897.3 L1609.5,897.3 L1610.0,897.3 L1610.5,897.3 L1611.0,897.3 L1611.5,897.3 L1612.0,897.3 L1612.5,897.3 L1613.0,897.3 L1613.5,897.3 L1614.0,897.3 L1614.5,897.3 L1615.0,897.3 L1615.5,897.3 L1616.0,897.3 L1616.5,897.3 L1617.0,897.3 L1617.5,897.3 L1618.0,897.3 L1618.5,897.3 L1619.0,897.3 L1619.5,897.3 L1620.0,897.3 L1620.5,897.3 L1621.0,897.3 L1621.5,897.3 L1622.0,897.3 L1622.5,897.3 L1623.0,897.3 L1623.5,897.3 L1624.0,897.3 L1624.5,897.3 L1625.0,897.3 L1625.5,897.3 L1626.0,897.3 L1626.5,897.3 L1627.0,897.3 L1627.5,897.3 L1628.0,897.3 L1628.5,897.3 L1629.0,897.3 L1629.5,897.3 L1630.0,897.3 L1630.5,897.3 L1631.0,897.3 L1631.5,897.3 L1632.0,897.3 L1632.5,897.3 L1633.0,897.3 L1633.5,897.3 L1634.0,897.3 L1634.5,897.3 L1635.0,897.3 L1635.5,897.3 L1636.0,897.3 L1636.5,897.3 L1637.0,897.3 L1637.5,897.3 L1638.0,897.3 L1638.5,897.3 L1639.0,897.3 L1639.5,897.3 L1640.0,897.3 L1640.5,897.3 L1641.0,897.3 L1641.5,897.3 L1642.0,897.3 L1642.5,897.3 L1643.0,897.3 L1643.5,897.3 L1644.0,897.3 L1644.5,897.3 L1645.0,897.3 L1645.5,897.3 L1646.0,897.3 L1646.5,897.3 L1647.0,897.3 L1647.5,897.3 L1648.0,897.3 L1648.5,897.3 L1649.0,897.3 L1649.5,897.3 L1650.0,897.3 L1650.5,897.3 L1651.0,897.3 L1651.5,897.3 L1652.0,897.3 L1652.5,897.3 L1653.0,897.3 L1653.5,897.3 L1654.0,897.3 L1654.5,897.3 L1655.0,897.3 L1655.5,897.3 L1656.0,897.3 L1656.5,897.3 L1657.0,897.3 L1657.5,897.3 L1658.0,897.3 L1658.5,897.3 L1659.0,897.3 L1659.5,897.3 L1660.0,897.3 L1660.5,897.3 L1661.0,897.3 L1661.5,897.3 L1662.0,897.3 L1662.5,897.3 L1663.0,897.3 L1663.5,897.3 L1664.0,897.3 L1664.5,897.3 L1665.0,897.3 L1665.5,897.3 L1666.0,897.3 L1666.5,897.3 L1667.0,897.3 L1667.5,897.3 L1668.0,897.3 L1668.5,897.3 L1669.0,897.3 L1669.5,897.3 L1670.0,897.3 L1670.5,897.3 L1671.0,897.3 L1671.5,897.3 L1672.0,897.3 L1672.5,897.3 L1673.0,897.3 L1673.5,897.3 L1674.0,897.3 L1674.5,897.3 L1675.0,897.3 L1675.5,897.3 L1676.0,897.3 L1676.5,897.3 L1677.0,897.3 L1677.5,897.3 L1678.0,897.3 L1678.5,897.3 L1679.0,897.3 L1679.5,897.3 L1680.0,897.3 L1680.5,897.3 L1681.0,897.3 L1681.5,897.3 L1682.0,897.3 L1682.5,897.3 L1683.0,897.3 L1683.5,897.3 L1684.0,897.3 L1684.5,897.3 L1685.0,897.3 L1685.5,897.3 L1686.0,897.3 L1686.5,897.3 L1687.0,897.3 L1687.5,897.3 L1688.0,897.3 L1688.5,897.3 L1689.0,897.3 L1689.5,897.3 L1690.0,897.3 L1690.5,897.3 L1691.0,897.3 L1691.5,897.3 L1692.0,897.3 L1692.5,897.3 L1693.0,897.3 L1693.5,897.3 L1694.0,897.3 L1694.5,897.3 L1695.0,897.3 L1695.5,897.3 L1696.0,897.3 L1696.5,897.3 L1697.0,897.3 L1697.5,897.3 L1698.0,897.3 L1698.5,897.3 L1699.0,897.3 L1699.5,897.3 L1700.0,897.3 L1700.5,897.3 L1701.0,897.3 L1701.5,897.3 L1702.0,897.3 L1702.5,897.3 L1703.0,897.3 L1703.5,897.3 L1704.0,897.3 L1704.5,897.3 L1705.0,897.3 L1705.5,897.3 L1706.0,897.3 L1706.5,897.3 L1707.0,897.3 L1707.5,897.3 L1708.0,897.3 L1708.5,897.3 L1709.0,897.3 L1709.5,897.3 L1710.0,897.3 L1710.5,897.3 L1711.0,897.3 L1711.5,897.3 L1712.0,897.3 L1712.5,897.3 L1713.0,897.3 L1713.5,897.3 L1714.0,897.3 L1714.5,897.3 L1715.0,897.3 L1715.5,897.3 L1716.0,897.3 L1716.5,897.3 L1717.0,897.3 L1717.5,897.3 L1718.0,897.3 L1718.5,897.3 L1719.0,897.3 L1719.5,897.3 L1720.0,897.3 L1720.5,897.3 L1721.0,897.3 L1721.5,897.3 L1722.0,897.3 L1722.5,897.3 L1723.0,897.3 L1723.5,897.3 L1724.0,897.3 L1724.5,897.3 L1725.0,897.3 L1725.5,897.3 L1726.0,897.3 L1726.5,897.3 L1727.0,897.3 L1727.5,897.3 L1728.0,897.3 L1728.5,897.3 L1729.0,897.3 L1729.5,897.3 L1730.0,897.3 L1730.5,897.3 L1731.0,897.3 L1731.5,897.3 L1732.0,897.3 L1732.5,897.3 L1733.0,897.3 L1733.5,897.3 L1734.0,897.3 L1734.5,897.3 L1735.0,897.3 L1735.5,897.3 L1736.0,897.3 L1736.5,897.3 L1737.0,897.3 L1737.5,897.2 L1738.0,897.2 L1738.5,897.2 L1739.0,897.2 L1739.5,897.2 L1740.0,897.2 L1740.5,897.2 L1741.0,897.2 L1741.5,897.2 L1742.0,897.2 L1742.5,897.2 L1743.0,897.2 L1743.5,897.2 L1744.0,897.2 L1744.5,897.2 L1745.0,897.2 L1745.5,897.2 L1746.0,897.2 L1746.5,897.2 L1747.0,897.2 L1747.5,897.2 L1748.0,897.2 L1748.5,897.2 L1749.0,897.2 L1749.5,897.2 L1750.0,897.2 L1750.5,897.2 L1751.0,897.2 L1751.5,897.2 L1752.0,897.2 L1752.5,897.1 L1753.0,897.1 L1753.5,897.1 L1754.0,897.1 L1754.5,897.1 L1755.0,897.1 L1755.5,897.1 L1756.0,897.1 L1756.5,897.1 L1757.0,897.1 L1757.5,897.1 L1758.0,897.1 L1758.5,897.1 L1759.0,897.1 L1759.5,897.1 L1760.0,897.1 L1760.5,897.1 L1761.0,897.1 L1761.5,897.1 L1762.0,897.1 L1762.5,897.1 L1763.0,897.1 L1763.5,897.1 L1764.0,897.1 L1764.5,897.1 L1765.0,897.1 L1765.5,897.1 L1766.0,897.1 L1766.5,897.1 L1767.0,897.1 L1767.5,897.0 L1768.0,897.0 L1768.5,897.0 L1769.0,897.0 L1769.5,897.0 L1770.0,897.0 L1770.5,897.0 L1771.0,897.0 L1771.5,897.0 L1772.0,897.0 L1772.5,897.0 L1773.0,897.0 L1773.5,897.0 L1774.0,897.0 L1774.5,897.0 L1775.0,897.0 L1775.5,897.0 L1776.0,897.0 L1776.5,897.0 L1777.0,897.0 L1777.5,897.0 L1778.0,897.0 L1778.5,897.0 L1779.0,897.0 L1779.5,897.0 L1780.0,897.0 L1780.5,897.0 L1781.0,897.0 L1781.5,897.0 L1782.0,897.0 L1782.5,896.9 L1783.0,896.9 L1783.5,896.9 L1784.0,896.9 L1784.5,896.9 L1785.0,896.9 L1785.5,896.9 L1786.0,896.9 L1786.5,896.9 L1787.0,896.9 L1787.5,896.9 L1788.0,896.9 L1788.5,896.9 L1789.0,896.9 L1789.5,896.9 L1790.0,896.9 L1790.5,896.9 L1791.0,896.9 L1791.5,896.9 L1792.0,896.9 L1792.5,896.9 L1793.0,896.9 L1793.5,896.9 L1794.0,896.9 L1794.5,896.9 L1795.0,896.9 L1795.5,896.9 L1796.0,896.9 L1796.5,896.9 L1797.0,896.9 L1797.5,896.8 L1798.0,896.8 L1798.5,896.8 L1799.0,896.8 L1799.5,896.8 L1800.0,896.8 L1800.5,896.8 L1801.0,896.8 L1801.5,896.8 L1802.0,896.8 L1802.5,896.8 L1803.0,896.8 L1803.5,896.8 L1804.0,896.8 L1804.5,896.8 L1805.0,896.8 L1805.5,896.8 L1806.0,896.8 L1806.5,896.8 L1807.0,896.8 L1807.5,896.8 L1808.0,896.8 L1808.5,896.8 L1809.0,896.8 L1809.5,896.8 L1810.0,896.8 L1810.5,896.8 L1811.0,896.8 L1811.5,896.8 L1812.0,896.8 L1812.5,896.7 L1813.0,896.7 L1813.5,896.7 L1814.0,896.7 L1814.5,896.7 L1815.0,896.7 L1815.5,896.7 L1816.0,896.7 L1816.5,896.7 L1817.0,896.7 L1817.5,896.7 L1818.0,896.7 L1818.5,896.7 L1819.0,896.7 L1819.5,896.7 L1820.0,896.7 L1820.5,896.7 L1821.0,896.7 L1821.5,896.7 L1822.0,896.7 L1822.5,896.7 L1823.0,896.7 L1823.5,896.7 L1824.0,896.7 L1824.5,896.7 L1825.0,896.7 L1825.5,896.7 L1826.0,896.7 L1826.5,896.7 L1827.0,896.7 L1827.5,896.7 L1828.0,896.7 L1828.5,896.7 L1829.0,896.7 L1829.5,896.7 L1830.0,896.7 L1830.5,896.7 L1831.0,896.7 L1831.5,896.7 L1832.0,896.7 L1832.5,896.7 L1833.0,896.7 L1833.5,896.7 L1834.0,896.6 L1834.5,896.6 L1835.0,896.6 L1835.5,896.6 L1836.0,896.6 L1836.5,896.5 L1837.0,896.5 L1837.5,896.4 L1838.0,896.3 L1838.5,896.3 L1839.0,896.2 L1839.5,896.0 L1840.0,895.9 L1840.5,895.7 L1841.0,895.5 L1841.5,895.3 L1842.0,895.0 L1842.5,894.7 L1843.0,894.4 L1843.5,894.0 L1844.0,893.5 L1844.5,893.0 L1845.0,892.4 L1845.5,891.8 L1846.0,891.1 L1846.5,890.4 L1847.0,889.5 L1847.5,888.7 L1848.0,887.7 L1848.5,886.7 L1849.0,885.6 L1849.5,884.5 L1850.0,883.3 L1850.5,882.1 L1851.0,880.9 L1851.5,879.6 L1852.0,878.3 L1852.5,877.1 L1853.0,875.8 L1853.5,874.5 L1854.0,873.3 L1854.5,872.1 L1855.0,871.0 L1855.5,870.0 L1856.0,869.0 L1856.5,868.2 L1857.0,867.4 L1857.5,866.7 L1858.0,866.2 L1858.5,865.7 L1859.0,865.4 L1859.5,865.2 L1860.0,865.1 L1860.5,865.1 L1861.0,865.3 L1861.5,865.5 L1862.0,865.9 L1862.5,866.4 L1863.0,866.9 L1863.5,867.5 L1864.0,868.2 L1864.5,869.0 L1865.0,869.8 L1865.5,870.7 L1866.0,871.6 L1866.5,872.5 L1867.0,873.4 L1867.5,874.4 L1868.0,875.3 L1868.5,876.3 L1869.0,877.2 L1869.5,878.2 L1870.0,879.1 L1870.5,880.0 L1871.0,880.8 L1871.5,881.7 L1872.0,882.5 L1872.5,883.3 L1873.0,884.0 L1873.5,884.7 L1874.0,885.4 L1874.5,886.1 L1875.0,886.7 L1875.5,887.3 L1876.0,887.8 L1876.5,888.3 L1877.0,888.8 L1877.5,889.3 L1878.0,889.7 L1878.5,890.2 L1879.0,890.5 L1879.5,890.9 L1880.0,891.3 L1880.5,891.6 L1881.0,891.9 L1881.5,892.2 L1882.0,892.5 L1882.5,892.7 L1883.0,893.0 L1883.5,893.2 L1884.0,893.4 L1884.5,893.6 L1885.0,893.8 L1885.5,894.0 L1886.0,894.1 L1886.5,894.3 L1887.0,894.4 L1887.5,894.6 L1888.0,894.7 L1888.5,894.8 L1889.0,894.9 L1889.5,895.0 L1890.0,895.1 L1890.5,895.2 L1891.0,895.3 L1891.5,895.4 L1892.0,895.5 L1892.5,895.6 L1893.0,895.6 L1893.5,895.7 L1894.0,895.8 L1894.5,895.8 L1895.0,895.9 L1895.5,895.9" fill="none" stroke="#0d0d0d" stroke-width="3.5" stroke-linecap="round" stroke-linejoin="round"/>
<path d="M187.1,1130.4 L205.0,1122.5 L223.0,1127.3 L241.0,1146.4 L259.0,1172.4 L277.0,1201.0 L294.9,1232.2 L312.9,1264.1 L330.9,1293.6 L348.9,1325.2 L366.9,1351.6 L384.8,1382.7 L402.8,1408.8 L420.8,1432.6 L438.8,1449.4 L456.8,1463.5 L474.7,1482.8 L492.7,1512.9 L510.7,1553.3 L528.7,1600.4 L546.7,1650.9 L564.6,1696.3 L582.6,1730.0 L600.6,1748.5 L618.6,1754.5 L636.5,1749.5 L654.5,1737.7 L672.5,1717.5 L690.5,1691.3 L708.5,1661.0 L726.5,1630.2 L744.4,1594.1 L762.4,1558.3 L780.4,1523.4 L798.4,1493.3 L816.4,1466.2 L834.3,1443.5 L852.3,1430.4 L870.3,1424.1 L888.3,1423.5 L906.2,1430.9 L924.2,1449.4 L942.2,1477.0 L960.2,1512.9 L978.2,1558.4 L996.2,1602.1 L1014.1,1644.2 L1032.1,1686.2 L1050.1,1725.6 L1068.1,1761.2 L1086.0,1790.5 L1104.0,1812.4 L1122.0,1829.2 L1140.0,1841.0 L1158.0,1847.7 L1176.0,1851.1 L1193.9,1851.8 L1211.9,1851.4 L1229.9,1850.1 L1247.9,1848.1 L1265.8,1845.4 L1283.8,1842.0 L1301.8,1838.3 L1319.8,1834.3 L1337.8,1830.6 L1355.8,1826.5 L1373.7,1822.5 L1391.7,1818.1 L1409.7,1814.7 L1427.7,1811.4 L1445.7,1808.4 L1463.6,1805.7 L1481.6,1803.6 L1499.6,1802.0 L1517.6,1800.6 L1535.5,1799.3 L1553.5,1798.9 L1571.5,1798.9 L1589.5,1799.6 L1607.5,1801.3 L1625.5,1803.0 L1643.4,1805.0 L1661.4,1807.3 L1679.4,1810.4 L1697.4,1813.7 L1715.3,1817.2 L1733.3,1820.8 L1751.3,1824.9 L1769.3,1829.4 L1787.3,1834.1 L1805.2,1838.1 L1823.2,1841.8 L1841.2,1845.9 L1859.2,1849.2 L1877.2,1852.6 L1895.2,1856.0" fill="none" stroke="#111" stroke-width="3.4" stroke-linecap="round" stroke-linejoin="round" stroke-dasharray="8.6 13.97" stroke-dashoffset="21.0"/>
<path d="M190.1,1245.6 L210.3,1204.4 L222.9,1179.2 L227.1,1172.4 L244.4,1159.5 L254.0,1173.3 L265.3,1199.4 L278.0,1241.4 L284.7,1270.9 L296.5,1313.8 L304.0,1342.3 L317.1,1386.1 L324.0,1414.1 L337.5,1457.1 L343.9,1484.7 L360.0,1529.8 L368.4,1556.7 L388.6,1597.0 L407.1,1620.6 L424.0,1631.7 L447.5,1638.4 L477.8,1638.4 L496.3,1632.4 L516.5,1619.9 L541.7,1607.1 L551.8,1605.5 L568.6,1605.5 L587.1,1598.7 L605.7,1576.2 L622.5,1544.9 L641.7,1501.5 L656.2,1467.4 L666.9,1440.3 L685.4,1399.9 L696.5,1372.0 L710.7,1341.7 L718.1,1332.6 L733.5,1308.1 L747.7,1293.6 L765.5,1290.6 L772.0,1294.8 L783.6,1303.4 L790.9,1316.2 L802.5,1334.3 L811.6,1356.2 L823.4,1382.1 L840.2,1424.8 L851.3,1452.5 L869.8,1492.9 L881.6,1519.7 L892.4,1539.8 L905.1,1558.4 L922.6,1581.9 L928.0,1589.6 L944.9,1604.4 L956.3,1611.5 L981.5,1623.3 L1000.0,1629.0 L1016.9,1629.7 L1026.9,1627.3 L1054.5,1618.9 L1077.4,1609.8 L1096.6,1603.1 L1124.5,1597.0 L1141.3,1596.4 L1154.8,1598.1 L1170.0,1601.4 L1196.9,1609.8 L1218.7,1618.9 L1238.9,1628.0 L1265.8,1640.8 L1307.3,1658.3 L1333.2,1669.4 L1376.3,1687.2 L1402.2,1698.0 L1444.3,1716.5 L1469.5,1728.3 L1511.6,1747.4 L1537.8,1760.2 L1578.9,1778.1 L1605.8,1789.8 L1647.9,1805.7 L1676.5,1815.1 L1718.5,1827.5 L1747.1,1834.3 L1792.5,1842.0 L1821.1,1846.0 L1866.6,1850.4 L1896.0,1853.0" fill="none" stroke="#111" stroke-width="3.4" stroke-linecap="round" stroke-linejoin="round" stroke-dasharray="42.9 31.6"/>
<path d="M187.1,1112.9 L205.0,1114.9 L223.0,1115.2 L241.0,1127.0 L259.0,1164.9 L277.0,1235.5 L294.9,1307.0 L312.9,1359.0 L330.9,1398.0 L348.9,1424.0 L366.9,1446.0 L384.8,1473.0 L402.8,1501.0 L420.8,1533.0 L438.8,1570.0 L456.8,1602.0 L474.7,1632.4 L492.7,1661.0 L510.7,1681.2 L528.7,1692.9 L546.7,1698.7 L564.6,1699.7 L582.6,1694.6 L600.6,1686.2 L618.6,1674.4 L636.5,1655.0 L654.5,1634.0 L672.5,1608.6 L690.5,1582.0 L708.5,1554.0 L726.5,1525.5 L744.4,1496.5 L762.4,1467.0 L780.4,1444.0 L798.4,1424.1 L816.4,1413.0 L834.3,1407.3 L852.3,1409.7 L870.3,1419.1 L888.3,1434.2 L906.2,1456.2 L924.2,1480.5 L942.2,1507.9 L960.2,1537.2 L978.2,1565.1 L996.2,1592.0 L1014.1,1606.5 L1032.1,1607.8 L1050.1,1597.0 L1068.1,1579.6 L1086.0,1555.0 L1104.0,1524.7 L1122.0,1494.4 L1140.0,1464.1 L1158.0,1432.0 L1176.0,1402.3 L1193.9,1375.4 L1211.9,1350.1 L1229.9,1326.6 L1247.9,1308.1 L1265.8,1294.6 L1283.8,1285.5 L1301.8,1282.2 L1319.8,1283.8 L1337.8,1289.6 L1355.8,1300.3 L1373.7,1318.2 L1391.7,1336.7 L1409.7,1359.5 L1427.7,1385.5 L1445.7,1414.0 L1463.6,1444.3 L1481.6,1477.0 L1499.6,1509.6 L1517.6,1540.5 L1535.5,1571.8 L1553.5,1602.1 L1571.5,1630.7 L1589.5,1661.0 L1607.5,1689.5 L1625.5,1713.5 L1643.4,1735.5 L1661.4,1754.0 L1679.4,1770.5 L1697.4,1784.2 L1715.3,1795.6 L1733.3,1805.7 L1751.3,1813.4 L1769.3,1820.8 L1787.3,1827.5 L1805.2,1832.6 L1823.2,1837.6 L1841.2,1841.0 L1859.2,1843.7 L1877.2,1846.0 L1895.2,1847.7" fill="none" stroke="#111" stroke-width="3.4" stroke-linecap="round" stroke-linejoin="round"/>
</svg>
</body></html>
